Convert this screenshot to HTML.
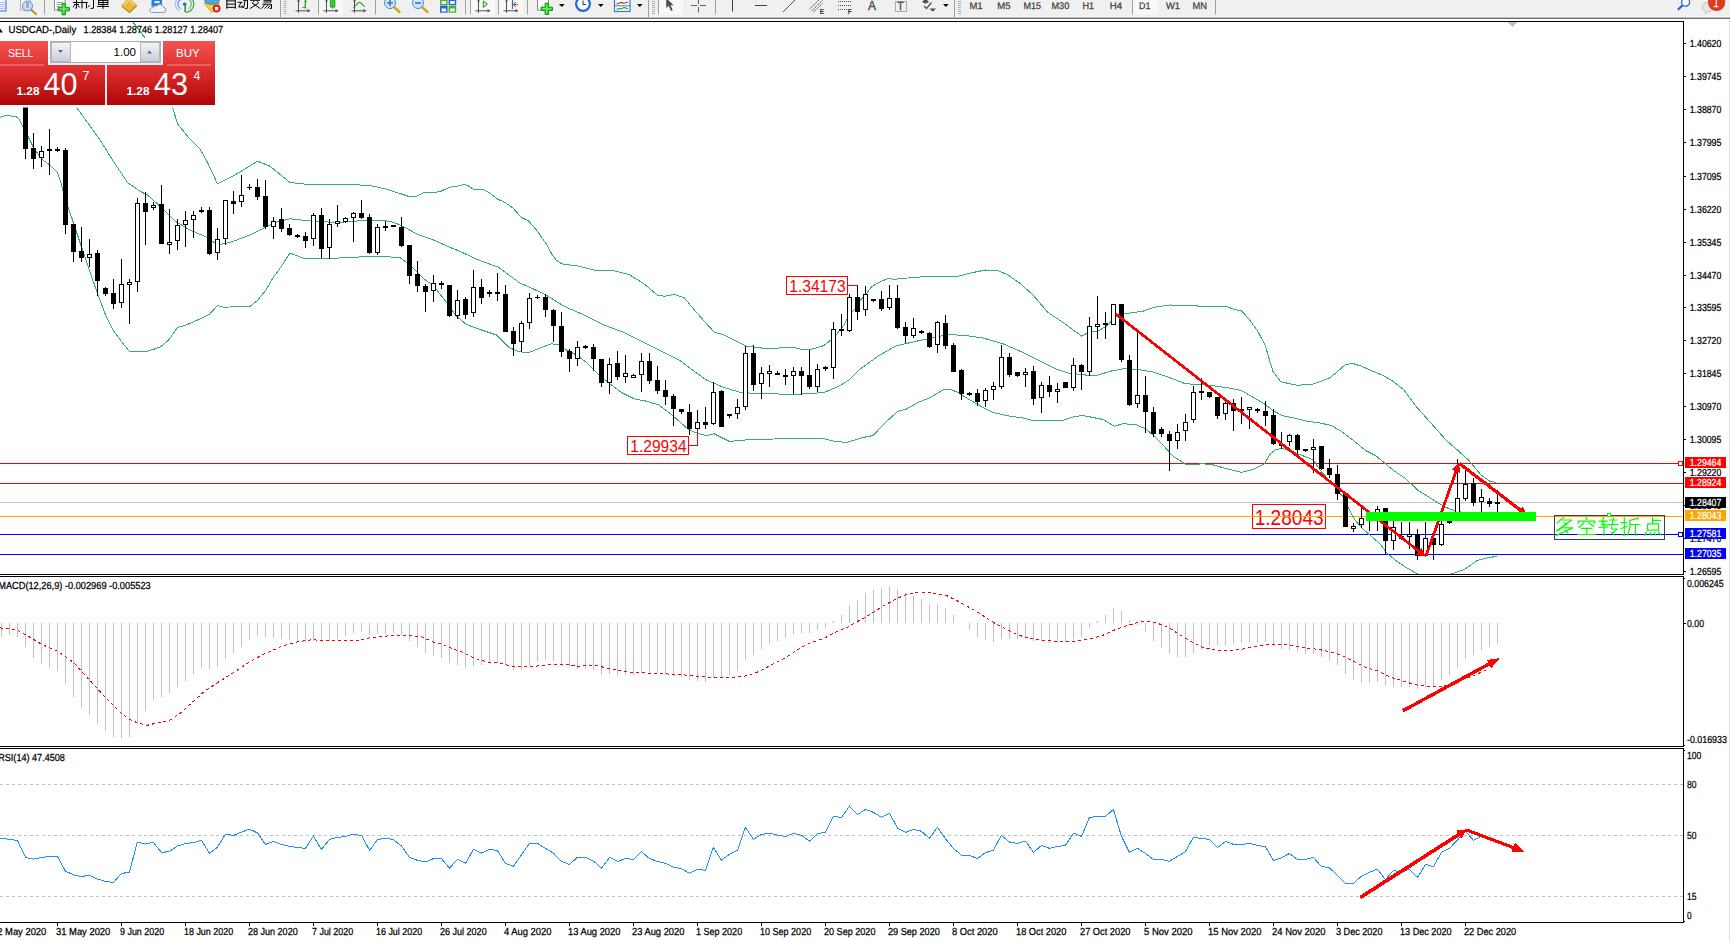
<!DOCTYPE html>
<html><head><meta charset="utf-8"><title>USDCAD Daily</title>
<style>html,body{margin:0;padding:0;background:#fff;overflow:hidden}body{width:1730px;height:941px;font-family:"Liberation Sans",sans-serif}</style></head>
<body>
<svg width="1730" height="941" viewBox="0 0 1730 941" style="display:block">
<defs>
<clipPath id="cpMain"><rect x="0" y="22" width="1683" height="552"/></clipPath>
<clipPath id="cpMacd"><rect x="0" y="577" width="1683" height="169"/></clipPath>
<clipPath id="cpRsi"><rect x="0" y="749" width="1683" height="173"/></clipPath>
<linearGradient id="gSell" x1="0" y1="0" x2="0" y2="1"><stop offset="0" stop-color="#f55252"/><stop offset="1" stop-color="#e03434"/></linearGradient>
<linearGradient id="gPrice" x1="0" y1="0" x2="0" y2="1"><stop offset="0" stop-color="#e23434"/><stop offset="0.55" stop-color="#c81a1a"/><stop offset="1" stop-color="#ac0606"/></linearGradient>
<linearGradient id="gBtn" x1="0" y1="0" x2="0" y2="1"><stop offset="0" stop-color="#f4f5f7"/><stop offset="0.5" stop-color="#dfe1e6"/><stop offset="1" stop-color="#c9ccd3"/></linearGradient>
</defs>
<rect x="0" y="0" width="1730" height="941" fill="#ffffff"/>
<g id="toolbar">
<rect x="0" y="0" width="1730" height="17" fill="#f0f0f0"/>
<rect x="0" y="16" width="1730" height="1" fill="#f6f6f6"/>
<rect x="0" y="17" width="1730" height="1" fill="#bdbdbd"/>
<rect x="0" y="18" width="1730" height="1" fill="#6e6e6e"/>
<rect x="0" y="19" width="1730" height="2" fill="#ffffff"/>
<rect x="-2" y="-2" width="8" height="13" fill="#eef4ff" stroke="#3a6fd8" stroke-width="1"/>
<path d="M0 2.5H5M0 4.5H5M0 6.5H5M0 8.5H5" stroke="#9bb8f0" stroke-width="0.8"/>
<rect x="20.5" y="-2" width="10" height="12" fill="#fafafa" stroke="#b0b0b0" stroke-width="1"/>
<line x1="31.5" y1="10" x2="36" y2="14" stroke="#c8901e" stroke-width="2.2" stroke-linecap="round"/>
<circle cx="27.5" cy="6" r="5" fill="#c9dcf4" fill-opacity="0.9" stroke="#5a8fe0" stroke-width="1"/>
<rect x="26" y="2" width="3" height="6" fill="#9fb0c8"/>
<rect x="44" y="0" width="1" height="14.5" fill="#a0a0a0"/>
<rect x="54.5" y="-2" width="10.5" height="12" fill="#fff" stroke="#8c8c8c" stroke-width="1"/>
<path d="M56.5 2.5H63M56.5 4.5H63M56.5 6.5H60" stroke="#9a9a9a" stroke-width="0.9"/>
<path d="M62.1 3.4h3.4v4h4v3.4h-4v4h-3.4v-4h-4v-3.4h4z" fill="#2fd12f" stroke="#0e8f0e" stroke-width="0.9"/>
<path d="M63.8 4.5v9M59.3 9.1h9" stroke="#7af07a" stroke-width="1" fill="none"/>
<g stroke="#000" stroke-width="1" fill="none" shape-rendering="auto">
<path d="M73 2.5H87.7M74 4.6H79M76.5 0V8.3L75.3 8M74.2 5.5L73.3 7.3M78.3 5.5L79.3 7.5M82 0V8.5M86.5 2.5V8.5"/>
<path d="M87.8 7.2L89.6 5.2M93.5 0V8.3L90.6 8.4"/>
<path d="M98.6 0V4.5H107.9V0M98.6 0.4H107.9M98.6 2.5H107.9M97 6.4H109M103 0V8.9"/>
</g>
<path d="M121.3 6.6L128.3 -1L137.2 6L129.6 13.2Z" fill="#a87414"/>
<path d="M121.3 5.4L128.3 -2.2L137.2 4.8L129.6 12Z" fill="#ecb63c"/>
<path d="M124 5.2L128.6 0.4L134 4.7" fill="none" stroke="#f8dc8c" stroke-width="1.1"/>
<rect x="151.5" y="-2" width="10.5" height="8.5" fill="#2a7de0"/>
<rect x="154.5" y="1" width="5" height="2.2" fill="#dcecff"/>
<path d="M151.5 12.5h11.5a2.6 2.6 0 0 0 0.3-5.2a3.4 3.4 0 0 0-6.3-1.2a2.6 2.6 0 0 0-3.6 1.7a2.4 2.4 0 0 0-1.9 4.7z" fill="#f2f4f8" stroke="#7b93c4" stroke-width="0.9"/>
<g fill="none" stroke-width="1.3">
<path d="M180.2 -0.5A5.8 5.8 0 0 0 180.9 9" stroke="#6f9be8"/>
<path d="M177.6 -1.5A8.5 8.5 0 0 0 178.8 11" stroke="#a9c4f0"/>
<path d="M189.2 -0.5A5.8 5.8 0 0 1 188.5 9" stroke="#6fbf6f"/>
<path d="M191.8 -1.5A8.5 8.5 0 0 1 186 12.3" stroke="#4aa84a"/>
</g>
<circle cx="184.7" cy="4.2" r="1.8" fill="#2a62d8"/>
<path d="M185.2 4.5V12.3" stroke="#2fa02f" stroke-width="1.6"/>
<path d="M204.3 3.5L219.5 3.5L212 12.6Z" fill="#f0cf3a" stroke="#c89a14" stroke-width="0.8"/>
<ellipse cx="212" cy="1" rx="7.3" ry="3.3" fill="#52a6dc" stroke="#2f7fb8" stroke-width="0.8"/>
<circle cx="216.6" cy="8.6" r="4" fill="#d8281e"/>
<rect x="215" y="7" width="3.2" height="3.2" fill="#fff"/>
<g stroke="#000" stroke-width="1" fill="none">
<path d="M226.8 0V8.8M235.3 0V8.8M226.8 0.9H235.3M226.8 4.1H235.3M226.8 7.3H235.3"/>
<path d="M237.6 2.3H242.5M241 2.5L238.6 7H242.2M242 5.5L243 8M243 0.3H248M247.5 0V8.3L245 8.5M245 1L243.6 8"/>
<path d="M250 0.3H260M258.5 3L250 8.6M252 3L260.5 8.6M254 1.2L252.5 2.6M256.8 1.2L258.5 2.6"/>
<path d="M263.5 0.3H271V2H263.5M262.5 4.2H271.5V8.5L269.7 8.3M265 4.2L261.7 8.5M268 5L264.6 8.5M270.3 5.3L267.6 8.5"/>
</g>
<rect x="280" y="0" width="1" height="17" fill="#a0a0a0"/>
<rect x="283.5" y="1" width="3" height="1" fill="#b0b0b0"/>
<rect x="283.5" y="3" width="3" height="1" fill="#b0b0b0"/>
<rect x="283.5" y="5" width="3" height="1" fill="#b0b0b0"/>
<rect x="283.5" y="7" width="3" height="1" fill="#b0b0b0"/>
<rect x="283.5" y="9" width="3" height="1" fill="#b0b0b0"/>
<rect x="283.5" y="11" width="3" height="1" fill="#b0b0b0"/>
<rect x="283.5" y="13" width="3" height="1" fill="#b0b0b0"/>
<path d="M298.5 0V13M295.5 10.8H308.5" stroke="#505050" stroke-width="1" fill="none"/>
<polygon points="310.5,10.8 307.5,9 307.5,12.6" fill="#505050"/>
<polygon points="298.5,-1 297,1.5 300,1.5" fill="#505050"/>
<path d="M305.3 0V8.5M305.3 1.5H307M302.6 7.5H305.3" stroke="#1a9a1a" stroke-width="1.2" fill="none"/>
<rect x="318" y="0" width="1" height="14.5" fill="#a0a0a0"/>
<rect x="319.5" y="0" width="23.5" height="14.5" fill="#f8f8f8"/>
<path d="M326.5 0V13M323.5 10.8H336.5" stroke="#505050" stroke-width="1" fill="none"/>
<polygon points="338.5,10.8 335.5,9 335.5,12.6" fill="#505050"/>
<polygon points="326.5,-1 325,1.5 328,1.5" fill="#505050"/>
<rect x="330.3" y="-1" width="4.6" height="8" fill="#2fd12f" stroke="#109010" stroke-width="0.8"/>
<path d="M332.6 7V8.6" stroke="#109010" stroke-width="1"/>
<path d="M354.5 0V13M351.5 10.8H364.5" stroke="#505050" stroke-width="1" fill="none"/>
<polygon points="366.5,10.8 363.5,9 363.5,12.6" fill="#505050"/>
<polygon points="354.5,-1 353,1.5 356,1.5" fill="#505050"/>
<path d="M353.3 7.8C356 5.5 357.5 2.6 359.3 2.3S362.5 5.5 364.8 6.5" stroke="#1a9a1a" stroke-width="1.1" fill="none"/>
<rect x="375" y="0" width="1" height="14.5" fill="#a0a0a0"/>
<line x1="394" y1="7" x2="399.3" y2="11.8" stroke="#d4a81e" stroke-width="2.6" stroke-linecap="round"/>
<circle cx="390" cy="3" r="5.5" fill="#cfe8fa" stroke="#4a86d8" stroke-width="1"/>
<path d="M387 3H393" stroke="#2f6cc8" stroke-width="1.5"/>
<path d="M390 0V6" stroke="#2f6cc8" stroke-width="1.5"/>
<line x1="422" y1="7" x2="427.3" y2="11.8" stroke="#d4a81e" stroke-width="2.6" stroke-linecap="round"/>
<circle cx="418" cy="3" r="5.5" fill="#cfe8fa" stroke="#4a86d8" stroke-width="1"/>
<path d="M415 3H421" stroke="#2f6cc8" stroke-width="1.5"/>
<rect x="440" y="-2" width="7.6" height="7" fill="#4ab024"/>
<rect x="441.5" y="1" width="4.6" height="3" fill="#eef6ff"/>
<rect x="448.6" y="-2" width="7.6" height="7" fill="#2e62d8"/>
<rect x="450.1" y="1" width="4.6" height="3" fill="#eef6ff"/>
<rect x="440" y="5.5" width="7.6" height="7.2" fill="#2e62d8"/>
<rect x="441.5" y="8.5" width="4.6" height="3" fill="#eef6ff"/>
<rect x="448.6" y="5.5" width="7.6" height="7.2" fill="#4ab024"/>
<rect x="450.1" y="8.5" width="4.6" height="3" fill="#eef6ff"/>
<rect x="465" y="0" width="1" height="14.5" fill="#a0a0a0"/>
<rect x="470" y="0" width="1" height="14.5" fill="#a0a0a0"/>
<rect x="471" y="0" width="23.5" height="14.5" fill="#f8f8f8"/>
<path d="M478.5 0V13M475.5 10.8H488.5" stroke="#505050" stroke-width="1" fill="none"/>
<polygon points="490.5,10.8 487.5,9 487.5,12.6" fill="#505050"/>
<polygon points="478.5,-1 477,1.5 480,1.5" fill="#505050"/>
<polygon points="483.3,1 483.3,7.5 487.3,4.2" fill="#c8f0c8" stroke="#1a9a1a" stroke-width="1"/>
<rect x="498" y="0" width="1" height="14.5" fill="#a0a0a0"/>
<rect x="499" y="0" width="24" height="14.5" fill="#f8f8f8"/>
<path d="M506.5 0V13M503.5 10.8H516.5" stroke="#505050" stroke-width="1" fill="none"/>
<polygon points="518.5,10.8 515.5,9 515.5,12.6" fill="#505050"/>
<polygon points="506.5,-1 505,1.5 508,1.5" fill="#505050"/>
<path d="M512.5 0V9" stroke="#2a72c8" stroke-width="1.2"/>
<path d="M518 4.5H514M515.8 2.3L513.4 4.5L515.8 6.7" stroke="#d8501e" stroke-width="1.1" fill="none"/>
<rect x="527" y="0" width="1" height="14.5" fill="#a0a0a0"/>
<rect x="537.5" y="-2" width="11" height="12" fill="#fff" stroke="#8c8c8c" stroke-width="1"/>
<path d="M545.1 3.1h3.4v4h4v3.4h-4v4h-3.4v-4h-4v-3.4h4z" fill="#2fd12f" stroke="#0e8f0e" stroke-width="0.9"/>
<path d="M546.8 4.2v9M542.3 8.8h9" stroke="#7af07a" stroke-width="1" fill="none"/>
<polygon points="559,4 564.6,4 561.8,7" fill="#000"/>
<circle cx="583" cy="4" r="6.9" fill="#fff" stroke="#1f6ad8" stroke-width="2.2"/>
<path d="M583 0.5V4.5H586" stroke="#303030" stroke-width="1" fill="none"/>
<polygon points="598,4 603.6,4 600.8,7" fill="#000"/>
<rect x="614.5" y="-2" width="15.5" height="13.5" fill="#fff" stroke="#3a78d8" stroke-width="1.2"/>
<path d="M614.5 5.8H630" stroke="#3a78d8" stroke-width="1"/>
<path d="M616.5 4L619 3.2L621.5 2.4L624 3.2L626 2.8L628 2" stroke="#a03020" stroke-width="1.1" fill="none"/>
<path d="M616.5 9.5L619 8.6L621 9L624 7.6L626 8L628 9.4" stroke="#1a9a1a" stroke-width="1.1" fill="none"/>
<polygon points="637,4 642.6,4 639.8,7" fill="#000"/>
<rect x="648" y="0" width="1" height="17" fill="#a0a0a0"/>
<rect x="652" y="1" width="3" height="1" fill="#b0b0b0"/>
<rect x="652" y="3" width="3" height="1" fill="#b0b0b0"/>
<rect x="652" y="5" width="3" height="1" fill="#b0b0b0"/>
<rect x="652" y="7" width="3" height="1" fill="#b0b0b0"/>
<rect x="652" y="9" width="3" height="1" fill="#b0b0b0"/>
<rect x="652" y="11" width="3" height="1" fill="#b0b0b0"/>
<rect x="652" y="13" width="3" height="1" fill="#b0b0b0"/>
<rect x="658" y="0" width="1" height="14.5" fill="#a0a0a0"/>
<rect x="659" y="0" width="24" height="14.5" fill="#f8f8f8"/>
<path d="M666.2 -2L666.2 8L668.6 5.8L671 11L672.8 10.2L670.6 5.2L673.6 5.2Z" fill="#505050"/>
<path d="M691 5.5H697M700 5.5H706M698.5 0V4M698.5 7V12.5" stroke="#606060" stroke-width="1" fill="none"/>
<rect x="715" y="0" width="1" height="14.5" fill="#a0a0a0"/>
<path d="M732.5 0V11.5" stroke="#404040" stroke-width="1"/>
<path d="M755 5.5H767" stroke="#404040" stroke-width="1"/>
<path d="M783 12L795.5 -0.5" stroke="#505050" stroke-width="1"/>
<path d="M809.5 9L820 -1M811.5 11L822.5 0.5M813.5 12L822.5 3.5" stroke="#404040" stroke-width="1" stroke-dasharray="1.5 0.8" fill="none"/>
<text x="819.8" y="13.6" font-family="Liberation Sans, sans-serif" font-size="6.5" font-weight="bold" fill="#303030">E</text>
<path d="M838 1.5H851M838 5.5H851M838 9.5H847" stroke="#505050" stroke-width="1" stroke-dasharray="1 1" fill="none"/>
<text x="847.8" y="13.6" font-family="Liberation Sans, sans-serif" font-size="6.5" font-weight="bold" fill="#303030">F</text>
<text x="868" y="9.6" font-family="Liberation Sans, sans-serif" font-size="12" fill="#505050" stroke="#505050" stroke-width="0.4">A</text>
<rect x="895.5" y="1.5" width="11" height="10" fill="none" stroke="#606060" stroke-width="1" stroke-dasharray="1 1"/>
<text x="897.2" y="9.6" font-family="Liberation Sans, sans-serif" font-size="10.5" fill="#505050" stroke="#505050" stroke-width="0.4">T</text>
<polygon points="922,2 925.5,-1.5 929,2 925.5,3.8" fill="#505050"/>
<polygon points="929.5,8.5 936,8.5 932.7,11.8" fill="#505050"/>
<path d="M924 6L926.5 8.5L931.5 2.5" stroke="#505050" stroke-width="1.2" fill="none"/>
<polygon points="943,4 948.6,4 945.8,7" fill="#000"/>
<rect x="954" y="0" width="1" height="17" fill="#a0a0a0"/>
<rect x="958" y="1" width="3" height="1" fill="#b0b0b0"/>
<rect x="958" y="3" width="3" height="1" fill="#b0b0b0"/>
<rect x="958" y="5" width="3" height="1" fill="#b0b0b0"/>
<rect x="958" y="7" width="3" height="1" fill="#b0b0b0"/>
<rect x="958" y="9" width="3" height="1" fill="#b0b0b0"/>
<rect x="958" y="11" width="3" height="1" fill="#b0b0b0"/>
<rect x="958" y="13" width="3" height="1" fill="#b0b0b0"/>
<rect x="1133" y="0" width="25" height="14.5" fill="#f8f8f8"/>
<rect x="1132" y="0" width="1" height="14.5" fill="#a0a0a0"/>
<rect x="1215" y="0" width="1" height="14.5" fill="#a0a0a0"/>
<text transform="translate(969.40,9.00) rotate(0.03) scale(0.9898,1)" font-family="Liberation Sans, sans-serif" font-size="9.6" fill="#404040" stroke="#404040" stroke-width="0.25" xml:space="preserve" >M1</text>
<text transform="translate(997.30,9.00) rotate(0.03) scale(0.9973,1)" font-family="Liberation Sans, sans-serif" font-size="9.6" fill="#404040" stroke="#404040" stroke-width="0.25" xml:space="preserve" >M5</text>
<text transform="translate(1023.50,9.00) rotate(0.03) scale(0.9371,1)" font-family="Liberation Sans, sans-serif" font-size="9.6" fill="#404040" stroke="#404040" stroke-width="0.25" xml:space="preserve" >M15</text>
<text transform="translate(1051.50,9.00) rotate(0.03) scale(0.9531,1)" font-family="Liberation Sans, sans-serif" font-size="9.6" fill="#404040" stroke="#404040" stroke-width="0.25" xml:space="preserve" >M30</text>
<text transform="translate(1082.50,9.00) rotate(0.03) scale(0.9534,1)" font-family="Liberation Sans, sans-serif" font-size="9.6" fill="#404040" stroke="#404040" stroke-width="0.25" xml:space="preserve" >H1</text>
<text transform="translate(1109.70,9.00) rotate(0.03) scale(1.0023,1)" font-family="Liberation Sans, sans-serif" font-size="9.6" fill="#404040" stroke="#404040" stroke-width="0.25" xml:space="preserve" >H4</text>
<text transform="translate(1139.00,9.00) rotate(0.03) scale(0.9289,1)" font-family="Liberation Sans, sans-serif" font-size="9.6" fill="#404040" stroke="#404040" stroke-width="0.25" xml:space="preserve" >D1</text>
<text transform="translate(1166.00,9.00) rotate(0.03) scale(0.9722,1)" font-family="Liberation Sans, sans-serif" font-size="9.6" fill="#404040" stroke="#404040" stroke-width="0.25" xml:space="preserve" >W1</text>
<text transform="translate(1192.60,9.00) rotate(0.03) scale(0.9645,1)" font-family="Liberation Sans, sans-serif" font-size="9.6" fill="#404040" stroke="#404040" stroke-width="0.25" xml:space="preserve" >MN</text>
<line x1="1682.6" y1="5.4" x2="1677.8" y2="9.8" stroke="#2a62d0" stroke-width="2.2"/>
<circle cx="1685.6" cy="2.2" r="4" fill="#fdfdff" stroke="#2a62d0" stroke-width="1.2"/>
<path d="M1702.3 7a5.5 4.6 0 1 1 5.6 4.6l-2.4 2l0.3-2.2a5.5 4.6 0 0 1-3.5-4.4z" fill="#e6e7ee" stroke="#b4b4b4" stroke-width="0.8"/>
<circle cx="1716.6" cy="2.3" r="8.6" fill="#e03a1e"/>
<path d="M1716.2 -2V6.4M1713.4 6.7H1718.4" stroke="#fff" stroke-width="1.1" fill="none"/>
</g>
<rect x="1252.5" y="504.5" width="73" height="24" fill="#fff" stroke="#ff0000" stroke-width="1"/>
<text x="1254.7" y="524.7" font-family="Liberation Sans, sans-serif" font-size="21.5" fill="#ff0000" textLength="69" lengthAdjust="spacingAndGlyphs">1.28043</text>
<g shape-rendering="crispEdges">
<rect x="0" y="463" width="1683" height="1" fill="#ff0000"/>
<rect x="0" y="483" width="1683" height="1" fill="#ff0000"/>
<rect x="0" y="502" width="1683" height="1" fill="#c0c0c0"/>
<rect x="0" y="516" width="1683" height="1" fill="#ffa500"/>
<rect x="0" y="534" width="1683" height="1" fill="#0000ff"/>
<rect x="0" y="554" width="1683" height="1" fill="#0000ff"/>
</g>
<g clip-path="url(#cpMain)">
<polyline points="0.0,117.5 6.3,115.3 16.3,116.9 18.8,118.8 22.6,125.7 28.2,137.0 33.2,147.0 41.4,158.9 50.1,165.2 57.7,172.7 60.2,180.2 62.7,190.2 68.3,207.8 72.5,220.0 82.5,250.0 90.0,271.9 97.5,293.7 105.6,315.0 113.7,331.2 121.2,341.2 129.3,351.4 146.2,351.4 153.7,349.3 161.2,346.4 169.3,339.3 177.4,327.4 185.5,325.3 193.6,321.8 201.7,318.1 209.9,313.9 217.4,305.6 225.5,307.5 233.6,306.5 249.8,306.5 257.3,300.6 266.0,290.0 273.5,276.9 278.5,270.6 290.0,253.0 305.0,258.8 322.5,258.8 375.0,256.2 400.0,257.5 410.0,265.0 424.0,278.8 434.0,286.2 446.5,302.5 456.5,316.2 466.5,324.5 481.5,330.0 496.5,335.0 509.0,347.5 519.0,351.8 529.0,352.5 541.5,347.5 551.5,343.8 559.0,345.0 566.5,350.0 576.5,355.0 586.5,362.5 599.0,375.0 611.5,385.0 621.5,392.5 634.0,398.8 646.5,401.2 659.0,405.0 669.0,412.5 679.0,421.2 689.0,430.0 699.0,433.8 706.5,435.5 714.0,433.8 721.5,437.5 729.0,441.2 739.0,440.8 749.0,439.5 774.0,439.0 799.0,438.2 824.0,438.8 834.0,441.2 846.5,442.5 863.0,437.5 873.0,435.5 885.5,422.5 898.0,411.2 905.5,409.5 918.0,402.5 930.5,397.5 943.0,390.0 950.5,389.2 958.0,392.5 968.0,398.8 983.0,407.5 993.0,412.5 1008.0,415.8 1023.0,418.0 1033.0,420.5 1048.0,420.0 1063.0,420.5 1073.0,417.0 1081.8,415.5 1090.5,417.0 1103.0,419.5 1114.2,426.2 1123.0,423.8 1135.5,424.5 1145.5,428.8 1153.0,435.0 1163.0,445.0 1173.0,456.2 1185.5,464.2 1198.0,465.0 1200.0,463.6 1212.1,464.6 1226.2,468.6 1241.4,472.3 1252.5,469.7 1264.6,463.6 1270.7,453.5 1275.7,449.5 1282.8,448.5 1288.8,450.5 1296.9,453.5 1313.0,459.6 1321.0,471.2 1333.5,485.0 1343.5,497.5 1348.7,508.7 1355.0,520.0 1361.2,527.5 1371.2,536.2 1380.0,543.7 1386.2,552.4 1395.0,559.9 1405.0,566.8 1417.4,573.7 1425.0,576.0 1437.0,577.5 1448.0,576.0 1451.1,574.0 1464.8,569.3 1477.3,560.5 1487.3,558.0 1496.7,556.2" fill="none" stroke="#36b06e" stroke-width="1" shape-rendering="crispEdges"/>
<polyline points="76.2,107.0 87.5,122.5 100.0,140.0 112.5,160.0 127.5,182.5 140.0,191.2 147.5,195.0 160.0,206.2 175.0,221.2 190.0,230.0 207.5,237.5 217.5,245.0 230.0,242.5 250.0,235.0 265.0,227.5 275.0,222.5 290.0,218.8 312.5,221.2 337.5,222.5 370.0,220.0 390.0,221.2 400.0,224.9 418.7,234.9 435.0,240.5 449.9,247.4 462.4,252.4 474.9,258.6 499.0,267.5 519.0,282.5 544.0,293.8 564.0,306.2 584.0,315.0 604.0,325.0 624.0,332.5 644.0,342.5 664.0,352.5 679.0,360.0 694.0,371.2 706.5,380.0 724.0,387.5 739.0,392.0 756.5,393.8 799.0,394.2 824.0,392.5 839.0,386.2 849.0,380.0 860.5,368.8 878.0,356.2 895.5,346.2 910.5,342.5 928.0,338.8 948.0,334.5 965.5,335.5 983.0,338.0 1003.0,343.8 1023.0,352.5 1040.5,361.2 1055.5,368.8 1068.0,373.0 1085.5,375.0 1098.0,375.0 1110.5,371.2 1123.0,368.8 1138.0,369.5 1153.0,372.0 1168.0,377.0 1185.5,383.8 1200.0,384.5 1216.1,386.1 1228.3,387.9 1241.4,390.5 1252.5,397.0 1264.6,404.0 1273.7,411.1 1282.8,415.8 1294.9,418.2 1307.0,421.2 1321.1,423.2 1331.2,425.6 1341.3,431.3 1353.4,440.4 1365.5,450.5 1375.6,455.5 1385.7,464.0 1393.8,470.7 1405.9,478.7 1417.4,490.0 1427.4,496.2 1437.4,502.5 1446.1,507.5 1454.9,510.6 1470.0,514.0 1497.0,517.0" fill="none" stroke="#36b06e" stroke-width="1" shape-rendering="crispEdges"/>
<polyline points="133.0,22.0 145.0,38.0 158.0,70.0 172.5,107.0" fill="none" stroke="#36b06e" stroke-width="1" shape-rendering="crispEdges"/>
<polyline points="172.5,107.0 177.5,123.8 187.5,136.2 200.0,148.8 207.5,162.5 217.5,183.8 235.0,175.0 257.5,161.2 270.0,166.2 290.0,182.5 312.5,185.0 350.0,184.5 370.0,185.5 385.0,188.8 400.0,193.5 408.1,196.2 416.9,196.2 424.3,192.5 436.2,192.2 441.2,191.2 448.7,187.5 453.7,186.5 458.7,185.9 464.3,184.4 468.0,185.6 473.7,189.4 482.4,189.4 489.9,193.1 497.4,199.0 504.9,202.5 512.4,207.5 517.4,213.1 521.1,217.4 528.6,220.9 537.3,231.2 546.1,243.7 552.3,254.9 556.1,259.9 561.5,263.8 579.0,266.2 594.0,270.0 614.0,270.8 629.0,274.5 644.0,283.8 657.8,295.5 665.2,296.2 674.0,294.5 684.0,297.5 696.5,312.5 714.0,332.0 724.0,335.0 734.0,340.0 746.5,346.2 761.5,348.0 779.0,348.0 794.0,347.5 804.0,350.0 814.0,348.8 824.0,345.5 834.0,337.5 844.0,325.0 849.0,315.0 856.5,307.5 860.0,300.7 866.0,294.0 872.0,286.4 877.2,283.4 887.7,278.5 894.5,279.3 901.2,278.5 923.0,276.8 955.5,276.8 973.0,272.5 985.5,270.0 998.0,270.5 1008.0,275.0 1020.5,283.8 1033.0,295.0 1048.0,312.5 1063.0,322.5 1081.8,336.2 1088.0,332.5 1098.0,331.2 1108.0,325.0 1113.0,318.8 1118.0,315.0 1130.5,313.0 1143.0,311.2 1153.0,307.5 1170.5,305.0 1200.0,306.1 1226.2,306.1 1233.3,309.2 1241.4,310.8 1248.4,318.3 1258.5,332.4 1265.6,346.5 1269.6,360.6 1273.1,371.8 1280.7,381.8 1288.8,383.5 1297.9,385.3 1314.0,383.9 1329.2,378.2 1337.3,371.8 1345.3,364.7 1352.4,363.3 1361.5,366.3 1371.6,370.7 1383.7,375.8 1393.8,381.8 1403.9,389.9 1409.9,398.0 1416.0,406.2 1426.0,417.5 1436.0,428.8 1446.0,440.0 1456.0,448.8 1468.5,460.0 1481.0,475.0 1489.8,481.2 1496.0,482.5" fill="none" stroke="#36b06e" stroke-width="1" shape-rendering="crispEdges"/>
<g shape-rendering="crispEdges">
<rect x="25" y="107" width="1" height="52" fill="#000"/>
<rect x="23" y="107" width="5" height="42" fill="#000"/>
<rect x="33" y="133" width="1" height="36" fill="#000"/>
<rect x="31" y="148" width="5" height="11" fill="#000"/>
<rect x="41" y="146" width="1" height="21" fill="#000"/>
<rect x="39" y="151" width="5" height="7" fill="#000"/>
<rect x="40" y="152" width="3" height="5" fill="#fff"/>
<rect x="49" y="129" width="1" height="46" fill="#000"/>
<rect x="47" y="149" width="5" height="2" fill="#000"/>
<rect x="57" y="147" width="1" height="5" fill="#000"/>
<rect x="55" y="149" width="5" height="2" fill="#000"/>
<rect x="65" y="148" width="1" height="86" fill="#000"/>
<rect x="63" y="150" width="5" height="75" fill="#000"/>
<rect x="73" y="224" width="1" height="38" fill="#000"/>
<rect x="71" y="224" width="5" height="28" fill="#000"/>
<rect x="81" y="227" width="1" height="35" fill="#000"/>
<rect x="79" y="251" width="5" height="7" fill="#000"/>
<rect x="89" y="239" width="1" height="28" fill="#000"/>
<rect x="87" y="254" width="5" height="4" fill="#000"/>
<rect x="88" y="255" width="3" height="2" fill="#fff"/>
<rect x="97" y="250" width="1" height="46" fill="#000"/>
<rect x="95" y="253" width="5" height="28" fill="#000"/>
<rect x="105" y="287" width="1" height="9" fill="#000"/>
<rect x="103" y="288" width="5" height="6" fill="#000"/>
<rect x="113" y="279" width="1" height="30" fill="#000"/>
<rect x="111" y="293" width="5" height="11" fill="#000"/>
<rect x="121" y="259" width="1" height="49" fill="#000"/>
<rect x="119" y="284" width="5" height="19" fill="#000"/>
<rect x="120" y="285" width="3" height="17" fill="#fff"/>
<rect x="129" y="279" width="1" height="45" fill="#000"/>
<rect x="127" y="282" width="5" height="3" fill="#000"/>
<rect x="128" y="283" width="3" height="1" fill="#fff"/>
<rect x="137" y="198" width="1" height="94" fill="#000"/>
<rect x="135" y="203" width="5" height="79" fill="#000"/>
<rect x="136" y="204" width="3" height="77" fill="#fff"/>
<rect x="145" y="192" width="1" height="53" fill="#000"/>
<rect x="143" y="203" width="5" height="9" fill="#000"/>
<rect x="153" y="202" width="1" height="8" fill="#000"/>
<rect x="151" y="205" width="5" height="3" fill="#000"/>
<rect x="152" y="206" width="3" height="1" fill="#fff"/>
<rect x="161" y="185" width="1" height="59" fill="#000"/>
<rect x="159" y="204" width="5" height="40" fill="#000"/>
<rect x="169" y="209" width="1" height="45" fill="#000"/>
<rect x="167" y="242" width="5" height="3" fill="#000"/>
<rect x="168" y="243" width="3" height="1" fill="#fff"/>
<rect x="177" y="219" width="1" height="31" fill="#000"/>
<rect x="175" y="225" width="5" height="16" fill="#000"/>
<rect x="176" y="226" width="3" height="14" fill="#fff"/>
<rect x="185" y="211" width="1" height="36" fill="#000"/>
<rect x="183" y="220" width="5" height="5" fill="#000"/>
<rect x="184" y="221" width="3" height="3" fill="#fff"/>
<rect x="193" y="211" width="1" height="27" fill="#000"/>
<rect x="191" y="215" width="5" height="5" fill="#000"/>
<rect x="192" y="216" width="3" height="3" fill="#fff"/>
<rect x="201" y="207" width="1" height="6" fill="#000"/>
<rect x="199" y="210" width="5" height="2" fill="#000"/>
<rect x="209" y="207" width="1" height="48" fill="#000"/>
<rect x="207" y="210" width="5" height="44" fill="#000"/>
<rect x="217" y="228" width="1" height="32" fill="#000"/>
<rect x="215" y="239" width="5" height="14" fill="#000"/>
<rect x="216" y="240" width="3" height="12" fill="#fff"/>
<rect x="225" y="200" width="1" height="45" fill="#000"/>
<rect x="223" y="200" width="5" height="39" fill="#000"/>
<rect x="224" y="201" width="3" height="37" fill="#fff"/>
<rect x="233" y="191" width="1" height="23" fill="#000"/>
<rect x="231" y="201" width="5" height="3" fill="#000"/>
<rect x="241" y="175" width="1" height="32" fill="#000"/>
<rect x="239" y="195" width="5" height="7" fill="#000"/>
<rect x="240" y="196" width="3" height="5" fill="#fff"/>
<rect x="249" y="184" width="1" height="6" fill="#000"/>
<rect x="247" y="187" width="5" height="1" fill="#000"/>
<rect x="257" y="179" width="1" height="21" fill="#000"/>
<rect x="255" y="187" width="5" height="10" fill="#000"/>
<rect x="265" y="180" width="1" height="49" fill="#000"/>
<rect x="263" y="196" width="5" height="31" fill="#000"/>
<rect x="273" y="217" width="1" height="22" fill="#000"/>
<rect x="271" y="221" width="5" height="6" fill="#000"/>
<rect x="272" y="222" width="3" height="4" fill="#fff"/>
<rect x="281" y="208" width="1" height="24" fill="#000"/>
<rect x="279" y="219" width="5" height="10" fill="#000"/>
<rect x="289" y="224" width="1" height="12" fill="#000"/>
<rect x="287" y="228" width="5" height="7" fill="#000"/>
<rect x="297" y="234" width="1" height="4" fill="#000"/>
<rect x="295" y="235" width="5" height="2" fill="#000"/>
<rect x="305" y="232" width="1" height="16" fill="#000"/>
<rect x="303" y="236" width="5" height="5" fill="#000"/>
<rect x="313" y="213" width="1" height="33" fill="#000"/>
<rect x="311" y="215" width="5" height="24" fill="#000"/>
<rect x="312" y="216" width="3" height="22" fill="#fff"/>
<rect x="321" y="208" width="1" height="50" fill="#000"/>
<rect x="319" y="215" width="5" height="34" fill="#000"/>
<rect x="329" y="219" width="1" height="40" fill="#000"/>
<rect x="327" y="224" width="5" height="24" fill="#000"/>
<rect x="328" y="225" width="3" height="22" fill="#fff"/>
<rect x="337" y="205" width="1" height="22" fill="#000"/>
<rect x="335" y="221" width="5" height="3" fill="#000"/>
<rect x="336" y="222" width="3" height="1" fill="#fff"/>
<rect x="345" y="217" width="1" height="6" fill="#000"/>
<rect x="343" y="218" width="5" height="4" fill="#000"/>
<rect x="344" y="219" width="3" height="2" fill="#fff"/>
<rect x="353" y="212" width="1" height="30" fill="#000"/>
<rect x="351" y="213" width="5" height="5" fill="#000"/>
<rect x="352" y="214" width="3" height="3" fill="#fff"/>
<rect x="361" y="200" width="1" height="19" fill="#000"/>
<rect x="359" y="213" width="5" height="5" fill="#000"/>
<rect x="369" y="214" width="1" height="40" fill="#000"/>
<rect x="367" y="217" width="5" height="36" fill="#000"/>
<rect x="377" y="224" width="1" height="31" fill="#000"/>
<rect x="375" y="227" width="5" height="26" fill="#000"/>
<rect x="376" y="228" width="3" height="24" fill="#fff"/>
<rect x="385" y="221" width="1" height="10" fill="#000"/>
<rect x="383" y="226" width="5" height="2" fill="#000"/>
<rect x="393" y="225" width="1" height="2" fill="#000"/>
<rect x="391" y="225" width="5" height="2" fill="#000"/>
<rect x="401" y="217" width="1" height="30" fill="#000"/>
<rect x="399" y="227" width="5" height="19" fill="#000"/>
<rect x="409" y="245" width="1" height="39" fill="#000"/>
<rect x="407" y="245" width="5" height="31" fill="#000"/>
<rect x="417" y="261" width="1" height="31" fill="#000"/>
<rect x="415" y="274" width="5" height="12" fill="#000"/>
<rect x="425" y="284" width="1" height="28" fill="#000"/>
<rect x="423" y="286" width="5" height="6" fill="#000"/>
<rect x="433" y="275" width="1" height="27" fill="#000"/>
<rect x="431" y="283" width="5" height="8" fill="#000"/>
<rect x="432" y="284" width="3" height="6" fill="#fff"/>
<rect x="441" y="281" width="1" height="8" fill="#000"/>
<rect x="439" y="283" width="5" height="2" fill="#000"/>
<rect x="449" y="285" width="1" height="32" fill="#000"/>
<rect x="447" y="285" width="5" height="31" fill="#000"/>
<rect x="457" y="290" width="1" height="29" fill="#000"/>
<rect x="455" y="300" width="5" height="16" fill="#000"/>
<rect x="456" y="301" width="3" height="14" fill="#fff"/>
<rect x="465" y="297" width="1" height="22" fill="#000"/>
<rect x="463" y="299" width="5" height="16" fill="#000"/>
<rect x="473" y="270" width="1" height="47" fill="#000"/>
<rect x="471" y="287" width="5" height="26" fill="#000"/>
<rect x="472" y="288" width="3" height="24" fill="#fff"/>
<rect x="481" y="279" width="1" height="25" fill="#000"/>
<rect x="479" y="287" width="5" height="11" fill="#000"/>
<rect x="489" y="290" width="1" height="7" fill="#000"/>
<rect x="487" y="292" width="5" height="2" fill="#000"/>
<rect x="497" y="273" width="1" height="28" fill="#000"/>
<rect x="495" y="292" width="5" height="2" fill="#000"/>
<rect x="505" y="285" width="1" height="47" fill="#000"/>
<rect x="503" y="294" width="5" height="38" fill="#000"/>
<rect x="513" y="327" width="1" height="29" fill="#000"/>
<rect x="511" y="331" width="5" height="13" fill="#000"/>
<rect x="521" y="321" width="1" height="31" fill="#000"/>
<rect x="519" y="323" width="5" height="19" fill="#000"/>
<rect x="520" y="324" width="3" height="17" fill="#fff"/>
<rect x="529" y="293" width="1" height="36" fill="#000"/>
<rect x="527" y="298" width="5" height="25" fill="#000"/>
<rect x="528" y="299" width="3" height="23" fill="#fff"/>
<rect x="537" y="295" width="1" height="4" fill="#000"/>
<rect x="535" y="297" width="5" height="1" fill="#000"/>
<rect x="545" y="294" width="1" height="23" fill="#000"/>
<rect x="543" y="297" width="5" height="13" fill="#000"/>
<rect x="553" y="309" width="1" height="33" fill="#000"/>
<rect x="551" y="310" width="5" height="16" fill="#000"/>
<rect x="561" y="312" width="1" height="45" fill="#000"/>
<rect x="559" y="326" width="5" height="26" fill="#000"/>
<rect x="569" y="349" width="1" height="23" fill="#000"/>
<rect x="567" y="351" width="5" height="8" fill="#000"/>
<rect x="577" y="341" width="1" height="25" fill="#000"/>
<rect x="575" y="347" width="5" height="12" fill="#000"/>
<rect x="576" y="348" width="3" height="10" fill="#fff"/>
<rect x="585" y="345" width="1" height="4" fill="#000"/>
<rect x="583" y="346" width="5" height="2" fill="#000"/>
<rect x="593" y="344" width="1" height="27" fill="#000"/>
<rect x="591" y="347" width="5" height="12" fill="#000"/>
<rect x="601" y="359" width="1" height="28" fill="#000"/>
<rect x="599" y="359" width="5" height="24" fill="#000"/>
<rect x="609" y="358" width="1" height="36" fill="#000"/>
<rect x="607" y="364" width="5" height="19" fill="#000"/>
<rect x="608" y="365" width="3" height="17" fill="#fff"/>
<rect x="617" y="351" width="1" height="29" fill="#000"/>
<rect x="615" y="363" width="5" height="14" fill="#000"/>
<rect x="625" y="355" width="1" height="28" fill="#000"/>
<rect x="623" y="373" width="5" height="4" fill="#000"/>
<rect x="624" y="374" width="3" height="2" fill="#fff"/>
<rect x="633" y="374" width="1" height="4" fill="#000"/>
<rect x="631" y="375" width="5" height="3" fill="#000"/>
<rect x="632" y="376" width="3" height="1" fill="#fff"/>
<rect x="641" y="353" width="1" height="39" fill="#000"/>
<rect x="639" y="361" width="5" height="14" fill="#000"/>
<rect x="640" y="362" width="3" height="12" fill="#fff"/>
<rect x="649" y="353" width="1" height="31" fill="#000"/>
<rect x="647" y="361" width="5" height="20" fill="#000"/>
<rect x="657" y="366" width="1" height="28" fill="#000"/>
<rect x="655" y="380" width="5" height="11" fill="#000"/>
<rect x="665" y="380" width="1" height="25" fill="#000"/>
<rect x="663" y="390" width="5" height="7" fill="#000"/>
<rect x="673" y="394" width="1" height="32" fill="#000"/>
<rect x="671" y="396" width="5" height="13" fill="#000"/>
<rect x="681" y="409" width="1" height="5" fill="#000"/>
<rect x="679" y="409" width="5" height="3" fill="#000"/>
<rect x="689" y="404" width="1" height="31" fill="#000"/>
<rect x="687" y="412" width="5" height="17" fill="#000"/>
<rect x="697" y="410" width="1" height="35" fill="#000"/>
<rect x="695" y="422" width="5" height="7" fill="#000"/>
<rect x="696" y="423" width="3" height="5" fill="#fff"/>
<rect x="705" y="407" width="1" height="22" fill="#000"/>
<rect x="703" y="422" width="5" height="3" fill="#000"/>
<rect x="713" y="382" width="1" height="43" fill="#000"/>
<rect x="711" y="392" width="5" height="32" fill="#000"/>
<rect x="712" y="393" width="3" height="30" fill="#fff"/>
<rect x="721" y="390" width="1" height="37" fill="#000"/>
<rect x="719" y="391" width="5" height="36" fill="#000"/>
<rect x="729" y="414" width="1" height="4" fill="#000"/>
<rect x="727" y="414" width="5" height="2" fill="#000"/>
<rect x="737" y="399" width="1" height="20" fill="#000"/>
<rect x="735" y="407" width="5" height="7" fill="#000"/>
<rect x="736" y="408" width="3" height="5" fill="#fff"/>
<rect x="745" y="346" width="1" height="64" fill="#000"/>
<rect x="743" y="353" width="5" height="54" fill="#000"/>
<rect x="744" y="354" width="3" height="52" fill="#fff"/>
<rect x="753" y="345" width="1" height="46" fill="#000"/>
<rect x="751" y="353" width="5" height="32" fill="#000"/>
<rect x="761" y="367" width="1" height="32" fill="#000"/>
<rect x="759" y="373" width="5" height="11" fill="#000"/>
<rect x="760" y="374" width="3" height="9" fill="#fff"/>
<rect x="769" y="365" width="1" height="22" fill="#000"/>
<rect x="767" y="371" width="5" height="3" fill="#000"/>
<rect x="768" y="372" width="3" height="1" fill="#fff"/>
<rect x="777" y="371" width="1" height="4" fill="#000"/>
<rect x="775" y="373" width="5" height="2" fill="#000"/>
<rect x="785" y="369" width="1" height="16" fill="#000"/>
<rect x="783" y="375" width="5" height="2" fill="#000"/>
<rect x="793" y="367" width="1" height="27" fill="#000"/>
<rect x="791" y="371" width="5" height="5" fill="#000"/>
<rect x="792" y="372" width="3" height="3" fill="#fff"/>
<rect x="801" y="367" width="1" height="28" fill="#000"/>
<rect x="799" y="371" width="5" height="5" fill="#000"/>
<rect x="809" y="350" width="1" height="39" fill="#000"/>
<rect x="807" y="375" width="5" height="12" fill="#000"/>
<rect x="817" y="364" width="1" height="28" fill="#000"/>
<rect x="815" y="369" width="5" height="18" fill="#000"/>
<rect x="816" y="370" width="3" height="16" fill="#fff"/>
<rect x="825" y="366" width="1" height="5" fill="#000"/>
<rect x="823" y="367" width="5" height="2" fill="#000"/>
<rect x="833" y="322" width="1" height="57" fill="#000"/>
<rect x="831" y="329" width="5" height="39" fill="#000"/>
<rect x="832" y="330" width="3" height="37" fill="#fff"/>
<rect x="841" y="314" width="1" height="22" fill="#000"/>
<rect x="839" y="329" width="5" height="2" fill="#000"/>
<rect x="849" y="294" width="1" height="38" fill="#000"/>
<rect x="847" y="297" width="5" height="34" fill="#000"/>
<rect x="848" y="298" width="3" height="32" fill="#fff"/>
<rect x="857" y="285" width="1" height="35" fill="#000"/>
<rect x="855" y="297" width="5" height="15" fill="#000"/>
<rect x="865" y="286" width="1" height="30" fill="#000"/>
<rect x="863" y="294" width="5" height="16" fill="#000"/>
<rect x="864" y="295" width="3" height="14" fill="#fff"/>
<rect x="873" y="299" width="1" height="3" fill="#000"/>
<rect x="871" y="299" width="5" height="2" fill="#000"/>
<rect x="881" y="291" width="1" height="20" fill="#000"/>
<rect x="879" y="299" width="5" height="10" fill="#000"/>
<rect x="889" y="285" width="1" height="25" fill="#000"/>
<rect x="887" y="298" width="5" height="10" fill="#000"/>
<rect x="888" y="299" width="3" height="8" fill="#fff"/>
<rect x="897" y="285" width="1" height="44" fill="#000"/>
<rect x="895" y="298" width="5" height="30" fill="#000"/>
<rect x="905" y="322" width="1" height="21" fill="#000"/>
<rect x="903" y="327" width="5" height="9" fill="#000"/>
<rect x="913" y="318" width="1" height="20" fill="#000"/>
<rect x="911" y="328" width="5" height="8" fill="#000"/>
<rect x="912" y="329" width="3" height="6" fill="#fff"/>
<rect x="921" y="330" width="1" height="4" fill="#000"/>
<rect x="919" y="331" width="5" height="2" fill="#000"/>
<rect x="929" y="332" width="1" height="16" fill="#000"/>
<rect x="927" y="333" width="5" height="14" fill="#000"/>
<rect x="937" y="321" width="1" height="32" fill="#000"/>
<rect x="935" y="322" width="5" height="23" fill="#000"/>
<rect x="936" y="323" width="3" height="21" fill="#fff"/>
<rect x="945" y="315" width="1" height="34" fill="#000"/>
<rect x="943" y="323" width="5" height="23" fill="#000"/>
<rect x="953" y="343" width="1" height="29" fill="#000"/>
<rect x="951" y="345" width="5" height="27" fill="#000"/>
<rect x="961" y="369" width="1" height="31" fill="#000"/>
<rect x="959" y="370" width="5" height="24" fill="#000"/>
<rect x="969" y="392" width="1" height="4" fill="#000"/>
<rect x="967" y="393" width="5" height="2" fill="#000"/>
<rect x="977" y="389" width="1" height="17" fill="#000"/>
<rect x="975" y="393" width="5" height="9" fill="#000"/>
<rect x="985" y="388" width="1" height="19" fill="#000"/>
<rect x="983" y="390" width="5" height="11" fill="#000"/>
<rect x="984" y="391" width="3" height="9" fill="#fff"/>
<rect x="993" y="382" width="1" height="18" fill="#000"/>
<rect x="991" y="386" width="5" height="4" fill="#000"/>
<rect x="992" y="387" width="3" height="2" fill="#fff"/>
<rect x="1001" y="345" width="1" height="44" fill="#000"/>
<rect x="999" y="357" width="5" height="30" fill="#000"/>
<rect x="1000" y="358" width="3" height="28" fill="#fff"/>
<rect x="1009" y="353" width="1" height="24" fill="#000"/>
<rect x="1007" y="357" width="5" height="18" fill="#000"/>
<rect x="1017" y="372" width="1" height="5" fill="#000"/>
<rect x="1015" y="372" width="5" height="4" fill="#000"/>
<rect x="1025" y="368" width="1" height="19" fill="#000"/>
<rect x="1023" y="372" width="5" height="3" fill="#000"/>
<rect x="1024" y="373" width="3" height="1" fill="#fff"/>
<rect x="1033" y="366" width="1" height="39" fill="#000"/>
<rect x="1031" y="371" width="5" height="28" fill="#000"/>
<rect x="1041" y="382" width="1" height="31" fill="#000"/>
<rect x="1039" y="385" width="5" height="13" fill="#000"/>
<rect x="1040" y="386" width="3" height="11" fill="#fff"/>
<rect x="1049" y="376" width="1" height="21" fill="#000"/>
<rect x="1047" y="385" width="5" height="7" fill="#000"/>
<rect x="1057" y="383" width="1" height="20" fill="#000"/>
<rect x="1055" y="389" width="5" height="3" fill="#000"/>
<rect x="1056" y="390" width="3" height="1" fill="#fff"/>
<rect x="1065" y="382" width="1" height="6" fill="#000"/>
<rect x="1063" y="382" width="5" height="6" fill="#000"/>
<rect x="1073" y="358" width="1" height="33" fill="#000"/>
<rect x="1071" y="365" width="5" height="23" fill="#000"/>
<rect x="1072" y="366" width="3" height="21" fill="#fff"/>
<rect x="1081" y="364" width="1" height="26" fill="#000"/>
<rect x="1079" y="365" width="5" height="7" fill="#000"/>
<rect x="1089" y="317" width="1" height="59" fill="#000"/>
<rect x="1087" y="326" width="5" height="46" fill="#000"/>
<rect x="1088" y="327" width="3" height="44" fill="#fff"/>
<rect x="1097" y="296" width="1" height="43" fill="#000"/>
<rect x="1095" y="324" width="5" height="3" fill="#000"/>
<rect x="1096" y="325" width="3" height="1" fill="#fff"/>
<rect x="1105" y="312" width="1" height="27" fill="#000"/>
<rect x="1103" y="323" width="5" height="2" fill="#000"/>
<rect x="1113" y="304" width="1" height="21" fill="#000"/>
<rect x="1111" y="304" width="5" height="21" fill="#000"/>
<rect x="1112" y="305" width="3" height="19" fill="#fff"/>
<rect x="1121" y="304" width="1" height="58" fill="#000"/>
<rect x="1119" y="304" width="5" height="56" fill="#000"/>
<rect x="1129" y="355" width="1" height="51" fill="#000"/>
<rect x="1127" y="360" width="5" height="45" fill="#000"/>
<rect x="1137" y="331" width="1" height="77" fill="#000"/>
<rect x="1135" y="395" width="5" height="9" fill="#000"/>
<rect x="1136" y="396" width="3" height="7" fill="#fff"/>
<rect x="1145" y="376" width="1" height="57" fill="#000"/>
<rect x="1143" y="395" width="5" height="17" fill="#000"/>
<rect x="1153" y="407" width="1" height="30" fill="#000"/>
<rect x="1151" y="412" width="5" height="22" fill="#000"/>
<rect x="1161" y="427" width="1" height="10" fill="#000"/>
<rect x="1159" y="429" width="5" height="5" fill="#000"/>
<rect x="1169" y="431" width="1" height="40" fill="#000"/>
<rect x="1167" y="434" width="5" height="7" fill="#000"/>
<rect x="1177" y="424" width="1" height="25" fill="#000"/>
<rect x="1175" y="432" width="5" height="9" fill="#000"/>
<rect x="1176" y="433" width="3" height="7" fill="#fff"/>
<rect x="1185" y="414" width="1" height="27" fill="#000"/>
<rect x="1183" y="422" width="5" height="9" fill="#000"/>
<rect x="1184" y="423" width="3" height="7" fill="#fff"/>
<rect x="1193" y="386" width="1" height="37" fill="#000"/>
<rect x="1191" y="392" width="5" height="28" fill="#000"/>
<rect x="1192" y="393" width="3" height="26" fill="#fff"/>
<rect x="1201" y="378" width="1" height="22" fill="#000"/>
<rect x="1199" y="391" width="5" height="2" fill="#000"/>
<rect x="1209" y="392" width="1" height="6" fill="#000"/>
<rect x="1207" y="392" width="5" height="5" fill="#000"/>
<rect x="1217" y="397" width="1" height="22" fill="#000"/>
<rect x="1215" y="397" width="5" height="19" fill="#000"/>
<rect x="1225" y="402" width="1" height="18" fill="#000"/>
<rect x="1223" y="403" width="5" height="11" fill="#000"/>
<rect x="1224" y="404" width="3" height="9" fill="#fff"/>
<rect x="1233" y="399" width="1" height="32" fill="#000"/>
<rect x="1231" y="403" width="5" height="8" fill="#000"/>
<rect x="1241" y="397" width="1" height="27" fill="#000"/>
<rect x="1239" y="409" width="5" height="2" fill="#000"/>
<rect x="1249" y="407" width="1" height="22" fill="#000"/>
<rect x="1247" y="407" width="5" height="3" fill="#000"/>
<rect x="1248" y="408" width="3" height="1" fill="#fff"/>
<rect x="1257" y="408" width="1" height="5" fill="#000"/>
<rect x="1255" y="409" width="5" height="2" fill="#000"/>
<rect x="1265" y="401" width="1" height="25" fill="#000"/>
<rect x="1263" y="411" width="5" height="5" fill="#000"/>
<rect x="1273" y="409" width="1" height="36" fill="#000"/>
<rect x="1271" y="415" width="5" height="29" fill="#000"/>
<rect x="1281" y="432" width="1" height="17" fill="#000"/>
<rect x="1279" y="444" width="5" height="2" fill="#000"/>
<rect x="1289" y="434" width="1" height="12" fill="#000"/>
<rect x="1287" y="435" width="5" height="7" fill="#000"/>
<rect x="1288" y="436" width="3" height="5" fill="#fff"/>
<rect x="1297" y="434" width="1" height="20" fill="#000"/>
<rect x="1295" y="435" width="5" height="15" fill="#000"/>
<rect x="1305" y="449" width="1" height="3" fill="#000"/>
<rect x="1303" y="449" width="5" height="2" fill="#000"/>
<rect x="1313" y="439" width="1" height="34" fill="#000"/>
<rect x="1311" y="447" width="5" height="3" fill="#000"/>
<rect x="1312" y="448" width="3" height="1" fill="#fff"/>
<rect x="1321" y="446" width="1" height="24" fill="#000"/>
<rect x="1319" y="446" width="5" height="23" fill="#000"/>
<rect x="1329" y="459" width="1" height="19" fill="#000"/>
<rect x="1327" y="468" width="5" height="7" fill="#000"/>
<rect x="1337" y="465" width="1" height="35" fill="#000"/>
<rect x="1335" y="474" width="5" height="20" fill="#000"/>
<rect x="1345" y="492" width="1" height="35" fill="#000"/>
<rect x="1343" y="493" width="5" height="34" fill="#000"/>
<rect x="1353" y="523" width="1" height="9" fill="#000"/>
<rect x="1351" y="526" width="5" height="3" fill="#000"/>
<rect x="1352" y="527" width="3" height="1" fill="#fff"/>
<rect x="1361" y="506" width="1" height="22" fill="#000"/>
<rect x="1359" y="518" width="5" height="7" fill="#000"/>
<rect x="1360" y="519" width="3" height="5" fill="#fff"/>
<rect x="1369" y="512" width="1" height="19" fill="#000"/>
<rect x="1367" y="516" width="5" height="2" fill="#000"/>
<rect x="1377" y="506" width="1" height="25" fill="#000"/>
<rect x="1375" y="509" width="5" height="8" fill="#000"/>
<rect x="1376" y="510" width="3" height="6" fill="#fff"/>
<rect x="1385" y="508" width="1" height="46" fill="#000"/>
<rect x="1383" y="508" width="5" height="33" fill="#000"/>
<rect x="1393" y="521" width="1" height="29" fill="#000"/>
<rect x="1391" y="527" width="5" height="14" fill="#000"/>
<rect x="1392" y="528" width="3" height="12" fill="#fff"/>
<rect x="1401" y="522" width="1" height="18" fill="#000"/>
<rect x="1399" y="536" width="5" height="3" fill="#000"/>
<rect x="1400" y="537" width="3" height="1" fill="#fff"/>
<rect x="1409" y="522" width="1" height="27" fill="#000"/>
<rect x="1407" y="534" width="5" height="3" fill="#000"/>
<rect x="1408" y="535" width="3" height="1" fill="#fff"/>
<rect x="1417" y="529" width="1" height="31" fill="#000"/>
<rect x="1415" y="534" width="5" height="22" fill="#000"/>
<rect x="1425" y="522" width="1" height="35" fill="#000"/>
<rect x="1423" y="538" width="5" height="18" fill="#000"/>
<rect x="1424" y="539" width="3" height="16" fill="#fff"/>
<rect x="1433" y="532" width="1" height="28" fill="#000"/>
<rect x="1431" y="538" width="5" height="7" fill="#000"/>
<rect x="1441" y="521" width="1" height="25" fill="#000"/>
<rect x="1439" y="524" width="5" height="21" fill="#000"/>
<rect x="1440" y="525" width="3" height="19" fill="#fff"/>
<rect x="1449" y="519" width="1" height="5" fill="#000"/>
<rect x="1447" y="521" width="5" height="2" fill="#000"/>
<rect x="1457" y="459" width="1" height="62" fill="#000"/>
<rect x="1455" y="498" width="5" height="23" fill="#000"/>
<rect x="1456" y="499" width="3" height="21" fill="#fff"/>
<rect x="1465" y="470" width="1" height="31" fill="#000"/>
<rect x="1463" y="484" width="5" height="15" fill="#000"/>
<rect x="1464" y="485" width="3" height="13" fill="#fff"/>
<rect x="1473" y="478" width="1" height="28" fill="#000"/>
<rect x="1471" y="483" width="5" height="20" fill="#000"/>
<rect x="1481" y="489" width="1" height="23" fill="#000"/>
<rect x="1479" y="497" width="5" height="5" fill="#000"/>
<rect x="1480" y="498" width="3" height="3" fill="#fff"/>
<rect x="1489" y="498" width="1" height="9" fill="#000"/>
<rect x="1487" y="501" width="5" height="3" fill="#000"/>
<rect x="1497" y="490" width="1" height="22" fill="#000"/>
<rect x="1495" y="502" width="5" height="2" fill="#000"/>
</g>
</g>
<rect x="786.5" y="276.5" width="61" height="18" fill="#fff" stroke="#ff0000" stroke-width="1"/>
<text x="789.3" y="291.7" font-family="Liberation Sans, sans-serif" font-size="16.2" fill="#ff0000" textLength="56.3" lengthAdjust="spacingAndGlyphs">1.34173</text>
<path d="M848 285.5 H857.5" stroke="#ff0000" stroke-width="1" fill="none" shape-rendering="crispEdges"/>
<rect x="627.5" y="436.5" width="61" height="18" fill="#fff" stroke="#ff0000" stroke-width="1"/>
<text x="630.3" y="451.7" font-family="Liberation Sans, sans-serif" font-size="16.2" fill="#ff0000" textLength="56.3" lengthAdjust="spacingAndGlyphs">1.29934</text>
<path d="M689 445.5 H697.5 V430" stroke="#ff0000" stroke-width="1" fill="none" shape-rendering="crispEdges"/>
<g id="cn">
<rect x="1554.5" y="515.5" width="110" height="24" fill="none" stroke="#404040" stroke-width="1"/>
<rect x="1607.5" y="513.5" width="3" height="3" fill="#fff" stroke="#00ff00" stroke-width="1"/>
<polyline points="1563.8,517.4 1557.0,523.0" fill="none" stroke="#00ff00" stroke-width="1.2" stroke-linecap="round" stroke-linejoin="round"/>
<polyline points="1562.3,520.0 1571.7,520.0 1556.3,530.9" fill="none" stroke="#00ff00" stroke-width="1.2" stroke-linecap="round" stroke-linejoin="round"/>
<polyline points="1564.2,522.7 1566.8,524.7" fill="none" stroke="#00ff00" stroke-width="1.2" stroke-linecap="round" stroke-linejoin="round"/>
<polyline points="1564.9,525.7 1558.2,530.5" fill="none" stroke="#00ff00" stroke-width="1.2" stroke-linecap="round" stroke-linejoin="round"/>
<polyline points="1564.2,527.9 1572.8,527.9 1556.3,535.4" fill="none" stroke="#00ff00" stroke-width="1.2" stroke-linecap="round" stroke-linejoin="round"/>
<polyline points="1565.3,530.2 1567.9,532.7" fill="none" stroke="#00ff00" stroke-width="1.2" stroke-linecap="round" stroke-linejoin="round"/>
<polyline points="1586.0,517.0 1586.7,519.7" fill="none" stroke="#00ff00" stroke-width="1.2" stroke-linecap="round" stroke-linejoin="round"/>
<polyline points="1578.1,523.8 1578.4,521.2 1595.0,521.2 1593.8,523.8" fill="none" stroke="#00ff00" stroke-width="1.2" stroke-linecap="round" stroke-linejoin="round"/>
<polyline points="1584.1,522.7 1578.8,527.5" fill="none" stroke="#00ff00" stroke-width="1.2" stroke-linecap="round" stroke-linejoin="round"/>
<polyline points="1588.6,522.7 1593.8,526.4" fill="none" stroke="#00ff00" stroke-width="1.2" stroke-linecap="round" stroke-linejoin="round"/>
<polyline points="1581.4,528.3 1592.0,528.3" fill="none" stroke="#00ff00" stroke-width="1.2" stroke-linecap="round" stroke-linejoin="round"/>
<polyline points="1586.7,528.3 1586.7,534.3" fill="none" stroke="#00ff00" stroke-width="1.2" stroke-linecap="round" stroke-linejoin="round"/>
<polyline points="1577.7,534.5 1595.7,534.5" fill="none" stroke="#00ff00" stroke-width="1.2" stroke-linecap="round" stroke-linejoin="round"/>
<polyline points="1599.1,521.2 1607.4,521.2" fill="none" stroke="#00ff00" stroke-width="1.2" stroke-linecap="round" stroke-linejoin="round"/>
<polyline points="1603.6,517.4 1601.7,524.9 1607.7,524.9" fill="none" stroke="#00ff00" stroke-width="1.2" stroke-linecap="round" stroke-linejoin="round"/>
<polyline points="1599.1,527.5 1607.7,526.8" fill="none" stroke="#00ff00" stroke-width="1.2" stroke-linecap="round" stroke-linejoin="round"/>
<polyline points="1604.0,521.2 1604.0,535.8" fill="none" stroke="#00ff00" stroke-width="1.2" stroke-linecap="round" stroke-linejoin="round"/>
<polyline points="1609.6,520.0 1617.1,520.0" fill="none" stroke="#00ff00" stroke-width="1.2" stroke-linecap="round" stroke-linejoin="round"/>
<polyline points="1608.5,524.5 1618.3,524.5" fill="none" stroke="#00ff00" stroke-width="1.2" stroke-linecap="round" stroke-linejoin="round"/>
<polyline points="1613.4,517.4 1611.5,529.0 1617.1,529.0 1613.0,532.8" fill="none" stroke="#00ff00" stroke-width="1.2" stroke-linecap="round" stroke-linejoin="round"/>
<polyline points="1611.1,532.1 1614.5,535.1" fill="none" stroke="#00ff00" stroke-width="1.2" stroke-linecap="round" stroke-linejoin="round"/>
<polyline points="1620.9,522.7 1626.9,522.7" fill="none" stroke="#00ff00" stroke-width="1.2" stroke-linecap="round" stroke-linejoin="round"/>
<polyline points="1624.3,517.4 1624.3,535.8 1622.8,534.7" fill="none" stroke="#00ff00" stroke-width="1.2" stroke-linecap="round" stroke-linejoin="round"/>
<polyline points="1620.9,528.7 1627.3,526.0" fill="none" stroke="#00ff00" stroke-width="1.2" stroke-linecap="round" stroke-linejoin="round"/>
<polyline points="1638.6,518.2 1629.9,520.4" fill="none" stroke="#00ff00" stroke-width="1.2" stroke-linecap="round" stroke-linejoin="round"/>
<polyline points="1629.9,520.4 1629.9,527.5 1627.7,535.1" fill="none" stroke="#00ff00" stroke-width="1.2" stroke-linecap="round" stroke-linejoin="round"/>
<polyline points="1629.9,524.5 1640.1,524.5" fill="none" stroke="#00ff00" stroke-width="1.2" stroke-linecap="round" stroke-linejoin="round"/>
<polyline points="1635.5,524.5 1635.5,535.8" fill="none" stroke="#00ff00" stroke-width="1.2" stroke-linecap="round" stroke-linejoin="round"/>
<polyline points="1652.5,517.0 1652.5,523.8" fill="none" stroke="#00ff00" stroke-width="1.2" stroke-linecap="round" stroke-linejoin="round"/>
<polyline points="1652.5,520.4 1660.7,520.4" fill="none" stroke="#00ff00" stroke-width="1.2" stroke-linecap="round" stroke-linejoin="round"/>
<polyline points="1647.6,523.8 1658.5,523.8 1658.5,530.2 1647.6,530.2 1647.6,523.8" fill="none" stroke="#00ff00" stroke-width="1.2" stroke-linecap="round" stroke-linejoin="round"/>
<polyline points="1646.4,532.1 1644.6,535.4" fill="none" stroke="#00ff00" stroke-width="1.2" stroke-linecap="round" stroke-linejoin="round"/>
<polyline points="1650.2,532.4 1651.0,535.1" fill="none" stroke="#00ff00" stroke-width="1.2" stroke-linecap="round" stroke-linejoin="round"/>
<polyline points="1654.3,532.4 1655.5,535.1" fill="none" stroke="#00ff00" stroke-width="1.2" stroke-linecap="round" stroke-linejoin="round"/>
<polyline points="1658.5,532.1 1661.1,535.1" fill="none" stroke="#00ff00" stroke-width="1.2" stroke-linecap="round" stroke-linejoin="round"/>
</g>
<rect x="1678.5" y="461.5" width="4" height="4" fill="#fff" stroke="#ff0000" stroke-width="1" shape-rendering="crispEdges"/>
<rect x="1678.5" y="532.5" width="4" height="4" fill="#fff" stroke="#0000ff" stroke-width="1" shape-rendering="crispEdges"/>
<line x1="1115.5" y1="313.7" x2="1420.5" y2="552.5" stroke="#ff0000" stroke-width="2.7" shape-rendering="crispEdges"/>
<polygon points="1426.0,556.8 1416.2,554.7 1421.6,547.8" fill="#ff0000" shape-rendering="crispEdges"/>
<line x1="1426.0" y1="556.0" x2="1456.7" y2="469.4" stroke="#ff0000" stroke-width="2.8" shape-rendering="crispEdges"/>
<polygon points="1459.0,462.8 1460.1,472.8 1451.8,469.8" fill="#ff0000" shape-rendering="crispEdges"/>
<line x1="1459.0" y1="463.2" x2="1521.7" y2="511.1" stroke="#ff0000" stroke-width="3.2" shape-rendering="crispEdges"/>
<polygon points="1526.5,514.7 1517.6,513.2 1522.7,506.5" fill="#ff0000" shape-rendering="crispEdges"/>
<rect x="1366" y="512" width="170" height="9" fill="#00ff00" shape-rendering="crispEdges"/>
<g clip-path="url(#cpMacd)">
<g shape-rendering="crispEdges">
<rect x="1" y="623" width="1" height="14" fill="#c0c0c0"/>
<rect x="9" y="623" width="1" height="12" fill="#c0c0c0"/>
<rect x="17" y="623" width="1" height="14" fill="#c0c0c0"/>
<rect x="25" y="623" width="1" height="24" fill="#c0c0c0"/>
<rect x="33" y="623" width="1" height="35" fill="#c0c0c0"/>
<rect x="41" y="623" width="1" height="41" fill="#c0c0c0"/>
<rect x="49" y="623" width="1" height="45" fill="#c0c0c0"/>
<rect x="57" y="623" width="1" height="48" fill="#c0c0c0"/>
<rect x="65" y="623" width="1" height="61" fill="#c0c0c0"/>
<rect x="73" y="623" width="1" height="74" fill="#c0c0c0"/>
<rect x="81" y="623" width="1" height="85" fill="#c0c0c0"/>
<rect x="89" y="623" width="1" height="92" fill="#c0c0c0"/>
<rect x="97" y="623" width="1" height="101" fill="#c0c0c0"/>
<rect x="105" y="623" width="1" height="108" fill="#c0c0c0"/>
<rect x="113" y="623" width="1" height="114" fill="#c0c0c0"/>
<rect x="121" y="623" width="1" height="115" fill="#c0c0c0"/>
<rect x="129" y="623" width="1" height="114" fill="#c0c0c0"/>
<rect x="137" y="623" width="1" height="101" fill="#c0c0c0"/>
<rect x="145" y="623" width="1" height="88" fill="#c0c0c0"/>
<rect x="153" y="623" width="1" height="77" fill="#c0c0c0"/>
<rect x="161" y="623" width="1" height="74" fill="#c0c0c0"/>
<rect x="169" y="623" width="1" height="70" fill="#c0c0c0"/>
<rect x="177" y="623" width="1" height="64" fill="#c0c0c0"/>
<rect x="185" y="623" width="1" height="58" fill="#c0c0c0"/>
<rect x="193" y="623" width="1" height="51" fill="#c0c0c0"/>
<rect x="201" y="623" width="1" height="45" fill="#c0c0c0"/>
<rect x="209" y="623" width="1" height="46" fill="#c0c0c0"/>
<rect x="217" y="623" width="1" height="44" fill="#c0c0c0"/>
<rect x="225" y="623" width="1" height="36" fill="#c0c0c0"/>
<rect x="233" y="623" width="1" height="30" fill="#c0c0c0"/>
<rect x="241" y="623" width="1" height="24" fill="#c0c0c0"/>
<rect x="249" y="623" width="1" height="17" fill="#c0c0c0"/>
<rect x="257" y="623" width="1" height="13" fill="#c0c0c0"/>
<rect x="265" y="623" width="1" height="14" fill="#c0c0c0"/>
<rect x="273" y="623" width="1" height="15" fill="#c0c0c0"/>
<rect x="281" y="623" width="1" height="16" fill="#c0c0c0"/>
<rect x="289" y="623" width="1" height="17" fill="#c0c0c0"/>
<rect x="297" y="623" width="1" height="19" fill="#c0c0c0"/>
<rect x="305" y="623" width="1" height="19" fill="#c0c0c0"/>
<rect x="313" y="623" width="1" height="18" fill="#c0c0c0"/>
<rect x="321" y="623" width="1" height="20" fill="#c0c0c0"/>
<rect x="329" y="623" width="1" height="18" fill="#c0c0c0"/>
<rect x="337" y="623" width="1" height="16" fill="#c0c0c0"/>
<rect x="345" y="623" width="1" height="13" fill="#c0c0c0"/>
<rect x="353" y="623" width="1" height="10" fill="#c0c0c0"/>
<rect x="361" y="623" width="1" height="9" fill="#c0c0c0"/>
<rect x="369" y="623" width="1" height="12" fill="#c0c0c0"/>
<rect x="377" y="623" width="1" height="11" fill="#c0c0c0"/>
<rect x="385" y="623" width="1" height="11" fill="#c0c0c0"/>
<rect x="393" y="623" width="1" height="10" fill="#c0c0c0"/>
<rect x="401" y="623" width="1" height="12" fill="#c0c0c0"/>
<rect x="409" y="623" width="1" height="18" fill="#c0c0c0"/>
<rect x="417" y="623" width="1" height="24" fill="#c0c0c0"/>
<rect x="425" y="623" width="1" height="30" fill="#c0c0c0"/>
<rect x="433" y="623" width="1" height="33" fill="#c0c0c0"/>
<rect x="441" y="623" width="1" height="35" fill="#c0c0c0"/>
<rect x="449" y="623" width="1" height="40" fill="#c0c0c0"/>
<rect x="457" y="623" width="1" height="42" fill="#c0c0c0"/>
<rect x="465" y="623" width="1" height="45" fill="#c0c0c0"/>
<rect x="473" y="623" width="1" height="43" fill="#c0c0c0"/>
<rect x="481" y="623" width="1" height="42" fill="#c0c0c0"/>
<rect x="489" y="623" width="1" height="40" fill="#c0c0c0"/>
<rect x="497" y="623" width="1" height="40" fill="#c0c0c0"/>
<rect x="505" y="623" width="1" height="43" fill="#c0c0c0"/>
<rect x="513" y="623" width="1" height="47" fill="#c0c0c0"/>
<rect x="521" y="623" width="1" height="47" fill="#c0c0c0"/>
<rect x="529" y="623" width="1" height="43" fill="#c0c0c0"/>
<rect x="537" y="623" width="1" height="39" fill="#c0c0c0"/>
<rect x="545" y="623" width="1" height="37" fill="#c0c0c0"/>
<rect x="553" y="623" width="1" height="38" fill="#c0c0c0"/>
<rect x="561" y="623" width="1" height="43" fill="#c0c0c0"/>
<rect x="569" y="623" width="1" height="44" fill="#c0c0c0"/>
<rect x="577" y="623" width="1" height="46" fill="#c0c0c0"/>
<rect x="585" y="623" width="1" height="46" fill="#c0c0c0"/>
<rect x="593" y="623" width="1" height="47" fill="#c0c0c0"/>
<rect x="601" y="623" width="1" height="52" fill="#c0c0c0"/>
<rect x="609" y="623" width="1" height="51" fill="#c0c0c0"/>
<rect x="617" y="623" width="1" height="53" fill="#c0c0c0"/>
<rect x="625" y="623" width="1" height="52" fill="#c0c0c0"/>
<rect x="633" y="623" width="1" height="52" fill="#c0c0c0"/>
<rect x="641" y="623" width="1" height="50" fill="#c0c0c0"/>
<rect x="649" y="623" width="1" height="49" fill="#c0c0c0"/>
<rect x="657" y="623" width="1" height="50" fill="#c0c0c0"/>
<rect x="665" y="623" width="1" height="52" fill="#c0c0c0"/>
<rect x="673" y="623" width="1" height="53" fill="#c0c0c0"/>
<rect x="681" y="623" width="1" height="54" fill="#c0c0c0"/>
<rect x="689" y="623" width="1" height="57" fill="#c0c0c0"/>
<rect x="697" y="623" width="1" height="58" fill="#c0c0c0"/>
<rect x="705" y="623" width="1" height="59" fill="#c0c0c0"/>
<rect x="713" y="623" width="1" height="55" fill="#c0c0c0"/>
<rect x="721" y="623" width="1" height="55" fill="#c0c0c0"/>
<rect x="729" y="623" width="1" height="52" fill="#c0c0c0"/>
<rect x="737" y="623" width="1" height="48" fill="#c0c0c0"/>
<rect x="745" y="623" width="1" height="37" fill="#c0c0c0"/>
<rect x="753" y="623" width="1" height="32" fill="#c0c0c0"/>
<rect x="761" y="623" width="1" height="26" fill="#c0c0c0"/>
<rect x="769" y="623" width="1" height="21" fill="#c0c0c0"/>
<rect x="777" y="623" width="1" height="18" fill="#c0c0c0"/>
<rect x="785" y="623" width="1" height="15" fill="#c0c0c0"/>
<rect x="793" y="623" width="1" height="11" fill="#c0c0c0"/>
<rect x="801" y="623" width="1" height="10" fill="#c0c0c0"/>
<rect x="809" y="623" width="1" height="10" fill="#c0c0c0"/>
<rect x="817" y="623" width="1" height="7" fill="#c0c0c0"/>
<rect x="825" y="623" width="1" height="5" fill="#c0c0c0"/>
<rect x="833" y="621" width="1" height="2" fill="#c0c0c0"/>
<rect x="841" y="615" width="1" height="8" fill="#c0c0c0"/>
<rect x="849" y="605" width="1" height="18" fill="#c0c0c0"/>
<rect x="857" y="600" width="1" height="23" fill="#c0c0c0"/>
<rect x="865" y="593" width="1" height="30" fill="#c0c0c0"/>
<rect x="873" y="590" width="1" height="33" fill="#c0c0c0"/>
<rect x="881" y="588" width="1" height="35" fill="#c0c0c0"/>
<rect x="889" y="586" width="1" height="37" fill="#c0c0c0"/>
<rect x="897" y="589" width="1" height="34" fill="#c0c0c0"/>
<rect x="905" y="593" width="1" height="30" fill="#c0c0c0"/>
<rect x="913" y="596" width="1" height="27" fill="#c0c0c0"/>
<rect x="921" y="599" width="1" height="24" fill="#c0c0c0"/>
<rect x="929" y="604" width="1" height="19" fill="#c0c0c0"/>
<rect x="937" y="604" width="1" height="19" fill="#c0c0c0"/>
<rect x="945" y="608" width="1" height="15" fill="#c0c0c0"/>
<rect x="953" y="615" width="1" height="8" fill="#c0c0c0"/>
<rect x="969" y="623" width="1" height="7" fill="#c0c0c0"/>
<rect x="977" y="623" width="1" height="14" fill="#c0c0c0"/>
<rect x="985" y="623" width="1" height="17" fill="#c0c0c0"/>
<rect x="993" y="623" width="1" height="19" fill="#c0c0c0"/>
<rect x="1001" y="623" width="1" height="16" fill="#c0c0c0"/>
<rect x="1009" y="623" width="1" height="16" fill="#c0c0c0"/>
<rect x="1017" y="623" width="1" height="16" fill="#c0c0c0"/>
<rect x="1025" y="623" width="1" height="15" fill="#c0c0c0"/>
<rect x="1033" y="623" width="1" height="18" fill="#c0c0c0"/>
<rect x="1041" y="623" width="1" height="18" fill="#c0c0c0"/>
<rect x="1049" y="623" width="1" height="20" fill="#c0c0c0"/>
<rect x="1057" y="623" width="1" height="20" fill="#c0c0c0"/>
<rect x="1065" y="623" width="1" height="19" fill="#c0c0c0"/>
<rect x="1073" y="623" width="1" height="16" fill="#c0c0c0"/>
<rect x="1081" y="623" width="1" height="14" fill="#c0c0c0"/>
<rect x="1089" y="623" width="1" height="5" fill="#c0c0c0"/>
<rect x="1097" y="621" width="1" height="2" fill="#c0c0c0"/>
<rect x="1105" y="615" width="1" height="8" fill="#c0c0c0"/>
<rect x="1113" y="608" width="1" height="15" fill="#c0c0c0"/>
<rect x="1121" y="611" width="1" height="12" fill="#c0c0c0"/>
<rect x="1129" y="620" width="1" height="3" fill="#c0c0c0"/>
<rect x="1137" y="623" width="1" height="2" fill="#c0c0c0"/>
<rect x="1145" y="623" width="1" height="9" fill="#c0c0c0"/>
<rect x="1153" y="623" width="1" height="18" fill="#c0c0c0"/>
<rect x="1161" y="623" width="1" height="25" fill="#c0c0c0"/>
<rect x="1169" y="623" width="1" height="31" fill="#c0c0c0"/>
<rect x="1177" y="623" width="1" height="34" fill="#c0c0c0"/>
<rect x="1185" y="623" width="1" height="34" fill="#c0c0c0"/>
<rect x="1193" y="623" width="1" height="30" fill="#c0c0c0"/>
<rect x="1201" y="623" width="1" height="26" fill="#c0c0c0"/>
<rect x="1209" y="623" width="1" height="23" fill="#c0c0c0"/>
<rect x="1217" y="623" width="1" height="22" fill="#c0c0c0"/>
<rect x="1225" y="623" width="1" height="22" fill="#c0c0c0"/>
<rect x="1233" y="623" width="1" height="21" fill="#c0c0c0"/>
<rect x="1241" y="623" width="1" height="20" fill="#c0c0c0"/>
<rect x="1249" y="623" width="1" height="19" fill="#c0c0c0"/>
<rect x="1257" y="623" width="1" height="19" fill="#c0c0c0"/>
<rect x="1265" y="623" width="1" height="19" fill="#c0c0c0"/>
<rect x="1273" y="623" width="1" height="23" fill="#c0c0c0"/>
<rect x="1281" y="623" width="1" height="26" fill="#c0c0c0"/>
<rect x="1289" y="623" width="1" height="27" fill="#c0c0c0"/>
<rect x="1297" y="623" width="1" height="29" fill="#c0c0c0"/>
<rect x="1305" y="623" width="1" height="31" fill="#c0c0c0"/>
<rect x="1313" y="623" width="1" height="31" fill="#c0c0c0"/>
<rect x="1321" y="623" width="1" height="34" fill="#c0c0c0"/>
<rect x="1329" y="623" width="1" height="38" fill="#c0c0c0"/>
<rect x="1337" y="623" width="1" height="42" fill="#c0c0c0"/>
<rect x="1345" y="623" width="1" height="51" fill="#c0c0c0"/>
<rect x="1353" y="623" width="1" height="57" fill="#c0c0c0"/>
<rect x="1361" y="623" width="1" height="60" fill="#c0c0c0"/>
<rect x="1369" y="623" width="1" height="60" fill="#c0c0c0"/>
<rect x="1377" y="623" width="1" height="59" fill="#c0c0c0"/>
<rect x="1385" y="623" width="1" height="63" fill="#c0c0c0"/>
<rect x="1393" y="623" width="1" height="64" fill="#c0c0c0"/>
<rect x="1401" y="623" width="1" height="64" fill="#c0c0c0"/>
<rect x="1409" y="623" width="1" height="64" fill="#c0c0c0"/>
<rect x="1417" y="623" width="1" height="66" fill="#c0c0c0"/>
<rect x="1425" y="623" width="1" height="64" fill="#c0c0c0"/>
<rect x="1433" y="623" width="1" height="64" fill="#c0c0c0"/>
<rect x="1441" y="623" width="1" height="57" fill="#c0c0c0"/>
<rect x="1449" y="623" width="1" height="52" fill="#c0c0c0"/>
<rect x="1457" y="623" width="1" height="45" fill="#c0c0c0"/>
<rect x="1465" y="623" width="1" height="36" fill="#c0c0c0"/>
<rect x="1473" y="623" width="1" height="32" fill="#c0c0c0"/>
<rect x="1481" y="623" width="1" height="27" fill="#c0c0c0"/>
<rect x="1489" y="623" width="1" height="24" fill="#c0c0c0"/>
<rect x="1497" y="623" width="1" height="21" fill="#c0c0c0"/>
</g>
<polyline points="0.0,627.9 17.5,629.9 25.0,634.4 41.5,644.2 57.4,651.2 73.4,662.4 89.4,679.9 105.4,697.4 121.4,713.6 129.4,719.1 137.3,722.8 147.3,725.3 157.3,722.8 169.8,720.3 179.8,713.6 192.3,702.3 204.8,691.1 214.8,684.4 226.0,677.4 239.7,668.6 249.7,661.6 264.7,653.7 282.2,646.2 297.2,641.9 312.1,639.7 324.6,640.7 349.6,640.7 362.1,639.9 369.6,637.9 389.5,635.7 409.5,635.4 422.0,636.9 424.0,637.9 434.0,642.4 441.5,643.7 449.0,647.4 461.5,651.9 473.9,657.9 486.4,661.9 498.9,663.1 511.4,666.1 536.4,666.1 551.4,664.1 571.3,665.1 578.8,666.9 586.3,665.1 596.3,665.1 603.8,667.4 613.8,669.1 621.3,671.1 636.3,672.6 661.2,673.6 686.2,675.1 711.2,677.4 731.1,678.1 748.6,675.4 761.1,670.6 773.6,663.6 786.1,657.4 801.1,647.4 811.1,642.4 823.5,638.7 836.0,631.9 848.0,626.9 860.5,619.9 873.0,612.5 885.5,604.5 897.9,598.2 907.9,593.7 920.4,592.5 930.4,592.5 945.4,595.0 957.9,601.2 970.4,608.0 980.3,613.7 990.3,620.7 1002.8,627.4 1017.8,634.9 1027.8,637.9 1042.8,640.4 1060.3,641.7 1077.7,640.9 1090.2,638.9 1102.7,635.4 1112.7,630.7 1122.7,626.9 1135.2,623.2 1145.2,621.2 1155.1,622.4 1167.6,626.9 1180.1,634.9 1192.6,642.4 1202.6,647.4 1217.6,650.4 1232.6,650.4 1245.0,648.7 1256.0,646.2 1266.0,644.4 1281.0,644.4 1293.5,645.7 1305.9,647.9 1318.4,649.4 1330.9,651.9 1340.9,654.9 1353.4,661.1 1365.9,667.4 1378.4,671.1 1390.8,677.4 1403.3,681.1 1415.8,684.9 1428.3,686.6 1440.8,686.6 1453.3,683.6 1465.8,678.6 1478.2,673.6 1489.5,668.6" fill="none" stroke="#ff0000" stroke-width="1" stroke-dasharray="3 3" shape-rendering="crispEdges"/>
</g>
<line x1="1403.0" y1="710.7" x2="1490.9" y2="663.0" stroke="#ff0000" stroke-width="3.4" shape-rendering="crispEdges"/>
<polygon points="1499.7,658.2 1491.3,668.0 1487.0,659.9" fill="#ff0000" shape-rendering="crispEdges"/>
<g clip-path="url(#cpRsi)">
<line x1="0" y1="784.5" x2="1683" y2="784.5" stroke="#c0c0c0" stroke-width="1" stroke-dasharray="3 3" shape-rendering="crispEdges"/>
<line x1="0" y1="835.5" x2="1683" y2="835.5" stroke="#c0c0c0" stroke-width="1" stroke-dasharray="3 3" shape-rendering="crispEdges"/>
<line x1="0" y1="896.5" x2="1683" y2="896.5" stroke="#c0c0c0" stroke-width="1" stroke-dasharray="3 3" shape-rendering="crispEdges"/>
<polyline points="0.0,838.6 1.5,838.1 9.5,839.4 17.5,840.4 25.5,857.4 33.5,859.1 41.5,857.4 49.4,856.4 57.4,856.4 65.4,871.1 73.4,874.8 81.4,876.6 89.4,875.1 97.4,879.1 105.4,881.3 113.4,882.6 121.4,873.4 129.4,872.4 137.3,842.1 145.3,844.1 153.3,842.4 161.6,852.6 169.6,851.4 177.5,845.9 185.5,843.6 193.5,842.6 201.5,840.4 209.5,853.4 217.5,847.1 225.5,834.1 233.5,835.4 241.5,832.1 249.5,829.2 257.5,832.9 265.4,844.4 273.4,841.4 281.4,844.4 289.4,846.4 297.4,847.4 305.4,848.4 313.4,836.1 321.4,849.4 329.4,839.4 337.4,837.4 345.4,836.4 353.3,834.1 361.6,835.6 369.6,850.4 377.6,839.4 385.6,838.4 393.5,839.6 401.5,846.1 409.5,857.4 417.5,860.4 425.5,861.9 433.5,858.6 441.5,858.6 449.5,868.1 457.5,859.4 465.5,863.4 473.4,849.4 481.4,853.1 489.4,849.4 497.4,850.4 505.4,863.4 513.4,866.4 521.4,854.9 529.4,843.4 537.4,843.4 545.4,848.4 553.4,853.1 561.3,861.1 569.3,864.6 577.3,857.4 585.6,857.4 593.6,861.1 601.5,868.1 609.5,857.4 617.5,861.4 625.5,858.6 633.5,859.4 641.5,851.6 649.5,858.6 657.5,861.4 665.5,863.4 673.5,867.1 681.5,868.6 689.4,873.4 697.4,869.1 705.4,870.4 713.4,847.4 721.4,860.1 729.4,854.4 737.4,850.4 745.4,827.4 753.4,839.4 761.4,834.4 769.4,833.1 777.3,835.1 785.6,836.4 793.6,833.4 801.6,835.4 809.6,841.1 817.5,833.6 825.5,832.1 833.5,816.4 841.5,817.4 849.5,806.2 857.5,814.4 865.5,809.4 873.5,812.4 881.5,817.4 889.5,813.2 897.4,827.9 905.4,832.4 913.4,829.4 921.4,831.2 929.4,838.4 937.4,827.4 945.4,838.6 953.4,848.4 961.4,855.1 969.4,855.4 977.4,858.6 985.3,852.6 993.3,850.4 1001.3,835.4 1009.6,842.1 1017.6,843.4 1025.5,841.1 1033.5,852.4 1041.5,845.4 1049.5,848.4 1057.5,846.4 1065.5,845.4 1073.5,833.1 1081.5,836.4 1089.5,817.4 1097.5,816.4 1105.5,816.4 1113.4,809.4 1121.4,836.1 1129.4,852.4 1137.4,848.4 1145.4,853.4 1153.4,859.4 1161.4,859.4 1169.4,861.4 1177.4,856.4 1185.4,851.6 1193.4,837.4 1201.3,838.4 1209.6,839.4 1217.6,847.4 1225.6,841.4 1233.6,844.4 1241.5,844.4 1249.5,843.4 1257.5,845.4 1265.5,846.9 1273.5,860.4 1281.5,857.9 1289.5,853.4 1297.5,859.4 1305.4,859.4 1313.4,857.4 1321.4,866.4 1329.4,867.9 1337.4,875.3 1345.4,883.3 1353.4,883.3 1361.4,876.3 1369.4,872.4 1377.4,869.1 1385.4,879.8 1393.3,870.4 1401.3,872.4 1409.3,869.1 1417.6,877.3 1425.6,864.4 1433.5,866.6 1441.5,852.4 1449.5,848.4 1457.5,839.9 1465.5,831.2 1473.5,840.4 1481.5,836.4 1489.5,839.9 1497.5,841.1" fill="none" stroke="#1e90ff" stroke-width="1" shape-rendering="crispEdges"/>
</g>
<line x1="1360.4" y1="897.4" x2="1460.3" y2="833.6" stroke="#ff0000" stroke-width="3.6" shape-rendering="crispEdges"/>
<polygon points="1467.0,829.3 1461.2,838.7 1456.0,830.6" fill="#ff0000" shape-rendering="crispEdges"/>
<line x1="1466.5" y1="830.0" x2="1515.1" y2="848.2" stroke="#ff0000" stroke-width="3.2" shape-rendering="crispEdges"/>
<polygon points="1524.0,851.5 1511.5,852.2 1515.0,842.8" fill="#ff0000" shape-rendering="crispEdges"/>
<g shape-rendering="crispEdges" fill="#000">
<rect x="0" y="21" width="1684" height="1"/>
<rect x="1683" y="21" width="1" height="554"/>
<rect x="0" y="574" width="1684" height="1"/>
<rect x="0" y="576" width="1684" height="1"/>
<rect x="1683" y="576" width="1" height="171"/>
<rect x="0" y="746" width="1684" height="1"/>
<rect x="0" y="748" width="1684" height="1"/>
<rect x="1683" y="748" width="1" height="175"/>
<rect x="0" y="922" width="1684" height="1"/>
</g>
<rect x="1729" y="20" width="1" height="921" fill="#dcdcdc"/>
<g shape-rendering="crispEdges" fill="#c0c0c0"><rect x="1508" y="22" width="9" height="1"/><rect x="1509" y="23" width="7" height="1"/><rect x="1510" y="24" width="5" height="1"/><rect x="1511" y="25" width="3" height="1"/><rect x="1512" y="26" width="1" height="1"/></g>
<g shape-rendering="crispEdges">
<rect x="1684" y="43" width="2" height="1" fill="#000"/>
<rect x="1684" y="76" width="2" height="1" fill="#000"/>
<rect x="1684" y="109" width="2" height="1" fill="#000"/>
<rect x="1684" y="142" width="2" height="1" fill="#000"/>
<rect x="1684" y="176" width="2" height="1" fill="#000"/>
<rect x="1684" y="209" width="2" height="1" fill="#000"/>
<rect x="1684" y="242" width="2" height="1" fill="#000"/>
<rect x="1684" y="275" width="2" height="1" fill="#000"/>
<rect x="1684" y="307" width="2" height="1" fill="#000"/>
<rect x="1684" y="340" width="2" height="1" fill="#000"/>
<rect x="1684" y="373" width="2" height="1" fill="#000"/>
<rect x="1684" y="406" width="2" height="1" fill="#000"/>
<rect x="1684" y="439" width="2" height="1" fill="#000"/>
<rect x="1684" y="472" width="2" height="1" fill="#000"/>
<rect x="1684" y="505" width="2" height="1" fill="#000"/>
<rect x="1684" y="538" width="2" height="1" fill="#000"/>
<rect x="1684" y="571" width="2" height="1" fill="#000"/>
</g>
<text transform="translate(1689.70,47.00) rotate(0.03) scale(0.8598,1)" font-family="Liberation Sans, sans-serif" font-size="10.2" fill="#000" stroke="#000" stroke-width="0.25" xml:space="preserve" >1.40620</text>
<text transform="translate(1689.70,80.00) rotate(0.03) scale(0.8598,1)" font-family="Liberation Sans, sans-serif" font-size="10.2" fill="#000" stroke="#000" stroke-width="0.25" xml:space="preserve" >1.39745</text>
<text transform="translate(1689.70,113.00) rotate(0.03) scale(0.8598,1)" font-family="Liberation Sans, sans-serif" font-size="10.2" fill="#000" stroke="#000" stroke-width="0.25" xml:space="preserve" >1.38870</text>
<text transform="translate(1689.70,146.00) rotate(0.03) scale(0.8598,1)" font-family="Liberation Sans, sans-serif" font-size="10.2" fill="#000" stroke="#000" stroke-width="0.25" xml:space="preserve" >1.37995</text>
<text transform="translate(1689.70,180.00) rotate(0.03) scale(0.8598,1)" font-family="Liberation Sans, sans-serif" font-size="10.2" fill="#000" stroke="#000" stroke-width="0.25" xml:space="preserve" >1.37095</text>
<text transform="translate(1689.70,213.00) rotate(0.03) scale(0.8598,1)" font-family="Liberation Sans, sans-serif" font-size="10.2" fill="#000" stroke="#000" stroke-width="0.25" xml:space="preserve" >1.36220</text>
<text transform="translate(1689.70,246.00) rotate(0.03) scale(0.8598,1)" font-family="Liberation Sans, sans-serif" font-size="10.2" fill="#000" stroke="#000" stroke-width="0.25" xml:space="preserve" >1.35345</text>
<text transform="translate(1689.70,279.00) rotate(0.03) scale(0.8598,1)" font-family="Liberation Sans, sans-serif" font-size="10.2" fill="#000" stroke="#000" stroke-width="0.25" xml:space="preserve" >1.34470</text>
<text transform="translate(1689.70,311.00) rotate(0.03) scale(0.8598,1)" font-family="Liberation Sans, sans-serif" font-size="10.2" fill="#000" stroke="#000" stroke-width="0.25" xml:space="preserve" >1.33595</text>
<text transform="translate(1689.70,344.00) rotate(0.03) scale(0.8598,1)" font-family="Liberation Sans, sans-serif" font-size="10.2" fill="#000" stroke="#000" stroke-width="0.25" xml:space="preserve" >1.32720</text>
<text transform="translate(1689.70,377.00) rotate(0.03) scale(0.8598,1)" font-family="Liberation Sans, sans-serif" font-size="10.2" fill="#000" stroke="#000" stroke-width="0.25" xml:space="preserve" >1.31845</text>
<text transform="translate(1689.70,410.00) rotate(0.03) scale(0.8598,1)" font-family="Liberation Sans, sans-serif" font-size="10.2" fill="#000" stroke="#000" stroke-width="0.25" xml:space="preserve" >1.30970</text>
<text transform="translate(1689.70,443.00) rotate(0.03) scale(0.8598,1)" font-family="Liberation Sans, sans-serif" font-size="10.2" fill="#000" stroke="#000" stroke-width="0.25" xml:space="preserve" >1.30095</text>
<text transform="translate(1689.70,476.00) rotate(0.03) scale(0.8598,1)" font-family="Liberation Sans, sans-serif" font-size="10.2" fill="#000" stroke="#000" stroke-width="0.25" xml:space="preserve" >1.29220</text>
<text transform="translate(1689.70,509.00) rotate(0.03) scale(0.8598,1)" font-family="Liberation Sans, sans-serif" font-size="10.2" fill="#000" stroke="#000" stroke-width="0.25" xml:space="preserve" >1.28345</text>
<text transform="translate(1689.70,542.00) rotate(0.03) scale(0.8598,1)" font-family="Liberation Sans, sans-serif" font-size="10.2" fill="#000" stroke="#000" stroke-width="0.25" xml:space="preserve" >1.27470</text>
<text transform="translate(1689.70,575.00) rotate(0.03) scale(0.8598,1)" font-family="Liberation Sans, sans-serif" font-size="10.2" fill="#000" stroke="#000" stroke-width="0.25" xml:space="preserve" >1.26595</text>
<rect x="1685" y="457" width="41" height="11" fill="#ff0000" shape-rendering="crispEdges"/>
<text transform="translate(1689.70,466.00) rotate(0.03) scale(0.8598,1)" font-family="Liberation Sans, sans-serif" font-size="10.2" fill="#fff" stroke="#fff" stroke-width="0.25" xml:space="preserve" >1.29464</text>
<rect x="1685" y="477" width="41" height="11" fill="#ff0000" shape-rendering="crispEdges"/>
<text transform="translate(1689.70,486.00) rotate(0.03) scale(0.8598,1)" font-family="Liberation Sans, sans-serif" font-size="10.2" fill="#fff" stroke="#fff" stroke-width="0.25" xml:space="preserve" >1.28924</text>
<rect x="1685" y="497" width="41" height="11" fill="#000000" shape-rendering="crispEdges"/>
<text transform="translate(1689.70,506.00) rotate(0.03) scale(0.8598,1)" font-family="Liberation Sans, sans-serif" font-size="10.2" fill="#fff" stroke="#fff" stroke-width="0.25" xml:space="preserve" >1.28407</text>
<rect x="1685" y="510" width="41" height="11" fill="#ffa500" shape-rendering="crispEdges"/>
<text transform="translate(1689.70,519.00) rotate(0.03) scale(0.8598,1)" font-family="Liberation Sans, sans-serif" font-size="10.2" fill="#fff" stroke="#fff" stroke-width="0.25" xml:space="preserve" >1.28043</text>
<rect x="1685" y="528" width="41" height="11" fill="#0000ff" shape-rendering="crispEdges"/>
<text transform="translate(1689.70,537.00) rotate(0.03) scale(0.8598,1)" font-family="Liberation Sans, sans-serif" font-size="10.2" fill="#fff" stroke="#fff" stroke-width="0.25" xml:space="preserve" >1.27581</text>
<rect x="1685" y="548" width="41" height="11" fill="#0000ff" shape-rendering="crispEdges"/>
<text transform="translate(1689.70,557.00) rotate(0.03) scale(0.8598,1)" font-family="Liberation Sans, sans-serif" font-size="10.2" fill="#fff" stroke="#fff" stroke-width="0.25" xml:space="preserve" >1.27035</text>
<rect x="1684" y="578" width="1" height="1" fill="#000"/><rect x="1684" y="623" width="2" height="1" fill="#000"/>
<text transform="translate(1687.00,587.00) rotate(0.03) scale(0.8603,1)" font-family="Liberation Sans, sans-serif" font-size="10.2" fill="#000" stroke="#000" stroke-width="0.25" xml:space="preserve" >0.006245</text>
<text transform="translate(1687.00,627.00) rotate(0.03) scale(0.8563,1)" font-family="Liberation Sans, sans-serif" font-size="10.2" fill="#000" stroke="#000" stroke-width="0.25" xml:space="preserve" >0.00</text>
<text transform="translate(1687.00,743.00) rotate(0.03) scale(0.8685,1)" font-family="Liberation Sans, sans-serif" font-size="10.2" fill="#000" stroke="#000" stroke-width="0.25" xml:space="preserve" >-0.016933</text>
<rect x="1684" y="745" width="1" height="1" fill="#000"/><rect x="1684" y="750" width="1" height="1" fill="#000"/>
<rect x="1684" y="921" width="1" height="1" fill="#000"/>
<text transform="translate(1687.00,759.00) rotate(0.03) scale(0.8461,1)" font-family="Liberation Sans, sans-serif" font-size="10.2" fill="#000" stroke="#000" stroke-width="0.25" xml:space="preserve" >100</text>
<text transform="translate(1687.00,788.00) rotate(0.03) scale(0.8373,1)" font-family="Liberation Sans, sans-serif" font-size="10.2" fill="#000" stroke="#000" stroke-width="0.25" xml:space="preserve" >80</text>
<text transform="translate(1687.00,839.00) rotate(0.03) scale(0.8373,1)" font-family="Liberation Sans, sans-serif" font-size="10.2" fill="#000" stroke="#000" stroke-width="0.25" xml:space="preserve" >50</text>
<text transform="translate(1687.00,900.00) rotate(0.03) scale(0.8373,1)" font-family="Liberation Sans, sans-serif" font-size="10.2" fill="#000" stroke="#000" stroke-width="0.25" xml:space="preserve" >15</text>
<text transform="translate(1687.00,919.00) rotate(0.03) scale(0.8109,1)" font-family="Liberation Sans, sans-serif" font-size="10.2" fill="#000" stroke="#000" stroke-width="0.25" xml:space="preserve" >0</text>
<text transform="translate(-1.80,589.00) rotate(0.03) scale(0.9073,1)" font-family="Liberation Sans, sans-serif" font-size="10.2" fill="#000" stroke="#000" stroke-width="0.25" xml:space="preserve" >MACD(12,26,9) -0.002969 -0.005523</text>
<text transform="translate(-1.80,761.00) rotate(0.03) scale(0.8925,1)" font-family="Liberation Sans, sans-serif" font-size="10.2" fill="#000" stroke="#000" stroke-width="0.25" xml:space="preserve" >RSI(14) 47.4508</text>
<rect x="-7" y="923" width="1" height="3" fill="#000" shape-rendering="crispEdges"/>
<text transform="translate(-8.00,935.00) rotate(0.03) scale(0.9224,1)" font-family="Liberation Sans, sans-serif" font-size="10.2" fill="#000" stroke="#000" stroke-width="0.25" xml:space="preserve" >22 May 2020</text>
<rect x="57" y="923" width="1" height="3" fill="#000" shape-rendering="crispEdges"/>
<text transform="translate(56.00,935.00) rotate(0.03) scale(0.9224,1)" font-family="Liberation Sans, sans-serif" font-size="10.2" fill="#000" stroke="#000" stroke-width="0.25" xml:space="preserve" >31 May 2020</text>
<rect x="121" y="923" width="1" height="3" fill="#000" shape-rendering="crispEdges"/>
<text transform="translate(120.00,935.00) rotate(0.03) scale(0.8756,1)" font-family="Liberation Sans, sans-serif" font-size="10.2" fill="#000" stroke="#000" stroke-width="0.25" xml:space="preserve" >9 Jun 2020</text>
<rect x="185" y="923" width="1" height="3" fill="#000" shape-rendering="crispEdges"/>
<text transform="translate(184.00,935.00) rotate(0.03) scale(0.8762,1)" font-family="Liberation Sans, sans-serif" font-size="10.2" fill="#000" stroke="#000" stroke-width="0.25" xml:space="preserve" >18 Jun 2020</text>
<rect x="249" y="923" width="1" height="3" fill="#000" shape-rendering="crispEdges"/>
<text transform="translate(248.00,935.00) rotate(0.03) scale(0.8851,1)" font-family="Liberation Sans, sans-serif" font-size="10.2" fill="#000" stroke="#000" stroke-width="0.25" xml:space="preserve" >28 Jun 2020</text>
<rect x="313" y="923" width="1" height="3" fill="#000" shape-rendering="crispEdges"/>
<text transform="translate(312.00,935.00) rotate(0.03) scale(0.8753,1)" font-family="Liberation Sans, sans-serif" font-size="10.2" fill="#000" stroke="#000" stroke-width="0.25" xml:space="preserve" >7 Jul 2020</text>
<rect x="377" y="923" width="1" height="3" fill="#000" shape-rendering="crispEdges"/>
<text transform="translate(376.00,935.00) rotate(0.03) scale(0.8759,1)" font-family="Liberation Sans, sans-serif" font-size="10.2" fill="#000" stroke="#000" stroke-width="0.25" xml:space="preserve" >16 Jul 2020</text>
<rect x="441" y="923" width="1" height="3" fill="#000" shape-rendering="crispEdges"/>
<text transform="translate(440.00,935.00) rotate(0.03) scale(0.8854,1)" font-family="Liberation Sans, sans-serif" font-size="10.2" fill="#000" stroke="#000" stroke-width="0.25" xml:space="preserve" >26 Jul 2020</text>
<rect x="505" y="923" width="1" height="3" fill="#000" shape-rendering="crispEdges"/>
<text transform="translate(504.00,935.00) rotate(0.03) scale(0.9202,1)" font-family="Liberation Sans, sans-serif" font-size="10.2" fill="#000" stroke="#000" stroke-width="0.25" xml:space="preserve" >4 Aug 2020</text>
<rect x="569" y="923" width="1" height="3" fill="#000" shape-rendering="crispEdges"/>
<text transform="translate(568.00,935.00) rotate(0.03) scale(0.9164,1)" font-family="Liberation Sans, sans-serif" font-size="10.2" fill="#000" stroke="#000" stroke-width="0.25" xml:space="preserve" >13 Aug 2020</text>
<rect x="633" y="923" width="1" height="3" fill="#000" shape-rendering="crispEdges"/>
<text transform="translate(632.00,935.00) rotate(0.03) scale(0.9164,1)" font-family="Liberation Sans, sans-serif" font-size="10.2" fill="#000" stroke="#000" stroke-width="0.25" xml:space="preserve" >23 Aug 2020</text>
<rect x="697" y="923" width="1" height="3" fill="#000" shape-rendering="crispEdges"/>
<text transform="translate(696.00,935.00) rotate(0.03) scale(0.8854,1)" font-family="Liberation Sans, sans-serif" font-size="10.2" fill="#000" stroke="#000" stroke-width="0.25" xml:space="preserve" >1 Sep 2020</text>
<rect x="761" y="923" width="1" height="3" fill="#000" shape-rendering="crispEdges"/>
<text transform="translate(760.00,935.00) rotate(0.03) scale(0.8850,1)" font-family="Liberation Sans, sans-serif" font-size="10.2" fill="#000" stroke="#000" stroke-width="0.25" xml:space="preserve" >10 Sep 2020</text>
<rect x="825" y="923" width="1" height="3" fill="#000" shape-rendering="crispEdges"/>
<text transform="translate(824.00,935.00) rotate(0.03) scale(0.8902,1)" font-family="Liberation Sans, sans-serif" font-size="10.2" fill="#000" stroke="#000" stroke-width="0.25" xml:space="preserve" >20 Sep 2020</text>
<rect x="889" y="923" width="1" height="3" fill="#000" shape-rendering="crispEdges"/>
<text transform="translate(888.00,935.00) rotate(0.03) scale(0.8971,1)" font-family="Liberation Sans, sans-serif" font-size="10.2" fill="#000" stroke="#000" stroke-width="0.25" xml:space="preserve" >29 Sep 2020</text>
<rect x="953" y="923" width="1" height="3" fill="#000" shape-rendering="crispEdges"/>
<text transform="translate(952.00,935.00) rotate(0.03) scale(0.9158,1)" font-family="Liberation Sans, sans-serif" font-size="10.2" fill="#000" stroke="#000" stroke-width="0.25" xml:space="preserve" >8 Oct 2020</text>
<rect x="1017" y="923" width="1" height="3" fill="#000" shape-rendering="crispEdges"/>
<text transform="translate(1016.00,935.00) rotate(0.03) scale(0.9069,1)" font-family="Liberation Sans, sans-serif" font-size="10.2" fill="#000" stroke="#000" stroke-width="0.25" xml:space="preserve" >18 Oct 2020</text>
<rect x="1081" y="923" width="1" height="3" fill="#000" shape-rendering="crispEdges"/>
<text transform="translate(1080.00,935.00) rotate(0.03) scale(0.9087,1)" font-family="Liberation Sans, sans-serif" font-size="10.2" fill="#000" stroke="#000" stroke-width="0.25" xml:space="preserve" >27 Oct 2020</text>
<rect x="1145" y="923" width="1" height="3" fill="#000" shape-rendering="crispEdges"/>
<text transform="translate(1144.00,935.00) rotate(0.03) scale(0.9335,1)" font-family="Liberation Sans, sans-serif" font-size="10.2" fill="#000" stroke="#000" stroke-width="0.25" xml:space="preserve" >5 Nov 2020</text>
<rect x="1209" y="923" width="1" height="3" fill="#000" shape-rendering="crispEdges"/>
<text transform="translate(1208.00,935.00) rotate(0.03) scale(0.9284,1)" font-family="Liberation Sans, sans-serif" font-size="10.2" fill="#000" stroke="#000" stroke-width="0.25" xml:space="preserve" >15 Nov 2020</text>
<rect x="1273" y="923" width="1" height="3" fill="#000" shape-rendering="crispEdges"/>
<text transform="translate(1272.00,935.00) rotate(0.03) scale(0.9284,1)" font-family="Liberation Sans, sans-serif" font-size="10.2" fill="#000" stroke="#000" stroke-width="0.25" xml:space="preserve" >24 Nov 2020</text>
<rect x="1337" y="923" width="1" height="3" fill="#000" shape-rendering="crispEdges"/>
<text transform="translate(1336.00,935.00) rotate(0.03) scale(0.8913,1)" font-family="Liberation Sans, sans-serif" font-size="10.2" fill="#000" stroke="#000" stroke-width="0.25" xml:space="preserve" >3 Dec 2020</text>
<rect x="1401" y="923" width="1" height="3" fill="#000" shape-rendering="crispEdges"/>
<text transform="translate(1400.00,935.00) rotate(0.03) scale(0.8938,1)" font-family="Liberation Sans, sans-serif" font-size="10.2" fill="#000" stroke="#000" stroke-width="0.25" xml:space="preserve" >13 Dec 2020</text>
<rect x="1465" y="923" width="1" height="3" fill="#000" shape-rendering="crispEdges"/>
<text transform="translate(1464.00,935.00) rotate(0.03) scale(0.9024,1)" font-family="Liberation Sans, sans-serif" font-size="10.2" fill="#000" stroke="#000" stroke-width="0.25" xml:space="preserve" >22 Dec 2020</text>
<rect x="0" y="38" width="218" height="69.5" fill="#fff"/>
<polygon points="0,28.5 3,32.5 0,32.5" fill="#000"/>
<text transform="translate(8.50,33.00) rotate(0.03) scale(0.9420,1)" font-family="Liberation Sans, sans-serif" font-size="10.2" fill="#000" stroke="#000" stroke-width="0.25" xml:space="preserve" >USDCAD-,Daily</text>
<text transform="translate(83.60,33.00) rotate(0.03) scale(0.8962,1)" font-family="Liberation Sans, sans-serif" font-size="10.2" fill="#000" stroke="#000" stroke-width="0.25" xml:space="preserve" >1.28384 1.28746 1.28127 1.28407</text>
<rect x="0" y="41" width="48" height="24" fill="url(#gSell)"/>
<rect x="163" y="41" width="52" height="24" fill="url(#gSell)"/>
<text x="8" y="57" font-family="Liberation Sans, sans-serif" font-size="11.5" fill="#fff" textLength="25.4" lengthAdjust="spacingAndGlyphs">SELL</text>
<text x="176" y="57" font-family="Liberation Sans, sans-serif" font-size="11.5" fill="#fff">BUY</text>
<rect x="0" y="65" width="105" height="40" fill="url(#gPrice)"/>
<rect x="107" y="65" width="108" height="40" fill="url(#gPrice)"/>
<rect x="48" y="63" width="115" height="2" fill="#fbe9e9"/>
<rect x="105" y="65" width="2" height="40" fill="#fbe9e9"/>
<rect x="0" y="64.5" width="44" height="1" fill="#f58a8a"/>
<rect x="167" y="64.5" width="44" height="1" fill="#f58a8a"/>
<rect x="50.5" y="41.5" width="110" height="21" fill="#fff" stroke="#a9aeb8" stroke-width="1"/>
<rect x="51.5" y="42.5" width="19" height="19" fill="url(#gBtn)" stroke="#b4b8c0" stroke-width="1"/>
<rect x="140.5" y="42.5" width="19" height="19" fill="url(#gBtn)" stroke="#b4b8c0" stroke-width="1"/>
<polygon points="58,50 63,50 60.5,53" fill="#4a5fc0"/>
<polygon points="147,53.5 152,53.5 149.5,50.5" fill="#4a5fc0"/>
<text x="136" y="55.5" font-family="Liberation Sans, sans-serif" font-size="11.5" fill="#000" text-anchor="end">1.00</text>
<text x="16.5" y="95.2" font-family="Liberation Sans, sans-serif" font-size="11.5" font-weight="bold" fill="#fff" textLength="23" lengthAdjust="spacingAndGlyphs">1.28</text>
<text x="43.5" y="95.2" font-family="Liberation Sans, sans-serif" font-size="32" fill="#fff" textLength="34" lengthAdjust="spacingAndGlyphs">40</text>
<text x="82.5" y="80" font-family="Liberation Sans, sans-serif" font-size="12.5" fill="#fff">7</text>
<text x="126.5" y="95.2" font-family="Liberation Sans, sans-serif" font-size="11.5" font-weight="bold" fill="#fff" textLength="23" lengthAdjust="spacingAndGlyphs">1.28</text>
<text x="154" y="95.2" font-family="Liberation Sans, sans-serif" font-size="32" fill="#fff" textLength="34" lengthAdjust="spacingAndGlyphs">43</text>
<text x="193.5" y="80" font-family="Liberation Sans, sans-serif" font-size="12.5" fill="#fff">4</text>
</svg>
</body></html>
